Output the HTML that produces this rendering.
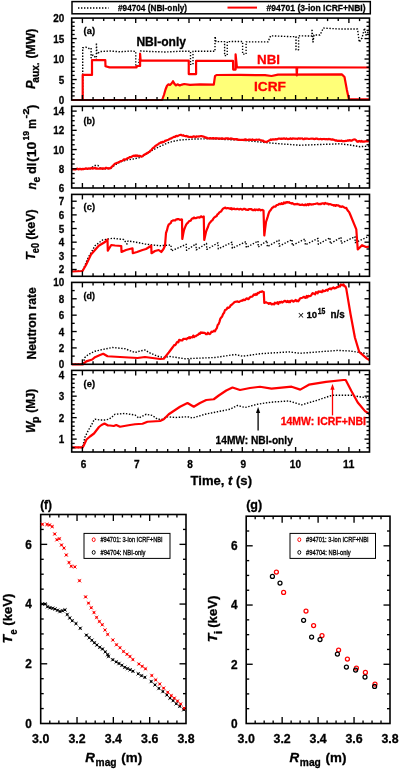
<!DOCTYPE html>
<html><head><meta charset="utf-8"><title>figure</title>
<style>html,body{margin:0;padding:0;background:#fff;width:400px;height:770px;overflow:hidden}</style>
</head><body>
<svg width="400" height="770" viewBox="0 0 400 770" style="display:block;will-change:transform">
<rect width="400" height="770" fill="#fff"/>
<g font-family='"Liberation Sans", sans-serif'>
<rect x="72" y="1.6" width="298.3" height="12.2" fill="none" stroke="#000" stroke-width="1.5"/>
<polyline points="78,8 108.5,8" fill="none" stroke="#000" stroke-width="1.4" stroke-dasharray="1.4 1.6" stroke-linejoin="round"/>
<text x="118" y="10.6" font-size="9" font-weight="bold" stroke="#000" stroke-width="0.3" textLength="69" lengthAdjust="spacingAndGlyphs">#94704 (NBI-only)</text>
<polyline points="227.5,7.6 257,7.6" fill="none" stroke="#ff0000" stroke-width="2" stroke-linejoin="round"/>
<text x="266.6" y="10.6" font-size="9" font-weight="bold" stroke="#000" stroke-width="0.3" textLength="99" lengthAdjust="spacingAndGlyphs">#94701 (3-ion ICRF+NBI)</text>
<polygon points="162.1,100 164,94.75 165.5,89.5 167,85.75 168.5,84.25 170,85 171.5,83.5 173,81.25 174.5,83.9 176,85.4 177.5,84.25 179.75,85.5 182,84.6 184.25,84 190,84.8 200,84.3 213.8,84.6 215,76.2 216.5,75 240,74.9 265,75.2 271.5,76 278,74.6 342,74.4 344.5,77 346.8,89.4 348.9,99.2 348.9,100" fill="#ffff78"/>
<polyline points="71.7,100 82.7,100 82.7,47.8 86,47.2 89,48.5 91.1,48 91.1,57.8 93,55 95,57 96.4,59.5 96.4,42.9 97,54 99.9,51.6 110,51 120,51.8 130,51 135.75,51.5 135.75,67.4 138.4,66 140.5,51 150,51.5 165,52 180,51.3 190.5,51.3 190.5,64.4 193,64.4 193,51.3 215,51.3 215,36.4 216,41.6 224.6,41.6 224.6,55.6 227.25,55.6 227.25,41.6 242.6,41.5 242.6,54.1 246.1,54.1 246.1,41.9 268,41.9 270.6,35.8 290,36.6 296,36.6 296,49.75 298.6,49.75 298.6,35.8 310,36 312,36 312,29 313,42 314,35 320,35 323.4,28.1 340,29 357.5,29 359.25,42.1 362,38 364.5,28.1 366,35 369.5,30" fill="none" stroke="#000" stroke-width="1.4" stroke-dasharray="1.4 1.6" stroke-linejoin="round"/>
<polyline points="71.7,100 82.7,100 82.7,74.9 92,74.9 92,60.2 105.3,60.2 105.5,66.2 109.5,67.4 136.6,67.4 136.8,66 140.1,66 140.1,53.9 140.6,60.7 188.75,60.7 188.75,74.1 196.1,74.1 196.1,60.8 233,60.8 233.2,69.6 235.6,69.6 235.6,54.4 236.9,67.3 296.5,67.4 296.8,75.4 297.2,67.4 369.5,67.5" fill="none" stroke="#ff0000" stroke-width="2.2" stroke-linejoin="round"/>
<polyline points="71.7,100 162.1,100 164,94.75 165.5,89.5 167,85.75 168.5,84.25 170,85 171.5,83.5 173,81.25 174.5,83.9 176,85.4 177.5,84.25 179.75,85.5 182,84.6 184.25,84 190,84.8 200,84.3 213.8,84.6 215,76.2 216.5,75 240,74.9 265,75.2 271.5,76 278,74.6 342,74.4 344.5,77 346.8,89.4 348.9,99.2 369.5,99.4" fill="none" stroke="#ff0000" stroke-width="2.2" stroke-linejoin="round"/>
<polyline points="71.7,169.5 90,169 94.75,165.5 98,165.5 101,169 110.5,168.5 115,165 120,162 127.4,159.9 133,159 139.75,157.6 146.5,153.8 153.25,149.75 160,146.4 167.5,143 172.5,141.5 180,140 195,139 210,138.75 225,139.5 240,140 250,141 265,142.5 280,143.8 300,145.25 320,144.5 340,143.8 350,145 360,146.7 369.5,146" fill="none" stroke="#000" stroke-width="1.4" stroke-dasharray="1.4 1.6" stroke-linejoin="round"/>
<polyline points="71.7,169.3 72.53,169.04 73.36,169.3 74.19,169.12 75.02,169.31 75.85,169.31 76.68,168.79 77.51,168.72 78.34,169.44 79.17,168.9 80,169.1 80.85,168.79 81.71,169.41 82.56,168.87 83.42,169.14 84.27,168.75 85.12,168.83 85.98,168.32 86.83,168.69 87.69,168.83 88.54,168.45 89.4,168.58 90.25,168.3 91.06,168.46 91.88,167.92 92.69,168.56 93.5,168.42 94.31,168.16 95.12,167.93 95.94,168.69 96.75,168.34 97.56,168.57 98.38,168.72 99.19,168.58 100,168.4 100.81,168.76 101.62,168.27 102.42,168.62 103.23,168.29 104.04,168.72 104.85,168.65 105.65,167.93 106.46,167.95 107.27,168.01 108.08,168.67 108.88,168.17 109.69,168.33 110.5,168.2 111.4,167.12 112.3,166.41 113.2,165.4 114.1,164.47 115,163.7 115.93,163.33 116.87,162.88 117.8,162.71 118.73,162.06 119.67,161.84 120.6,161 121.44,160.98 122.28,160.76 123.12,160.13 123.96,159.34 124.8,159.62 125.64,159.38 126.48,158.98 127.32,158.34 128.16,158.13 129,157.6 129.89,157.03 130.79,157.27 131.68,156.72 132.57,156.15 133.46,155.64 134.36,156.03 135.25,155.4 136.09,155.98 136.94,155.3 137.78,156.08 138.62,155.87 139.47,155.77 140.31,156.04 141.16,156.6 142,156.5 142.84,156.27 143.69,154.96 144.53,154.92 145.38,153.84 146.22,153.88 147.06,152.97 147.91,152.91 148.75,152 149.62,151.68 150.49,150.5 151.37,150.2 152.24,148.83 153.11,147.87 153.98,147.59 154.86,146.33 155.73,145.73 156.6,145.25 157.45,144.6 158.3,144.22 159.15,143.25 160,143 160.83,142.25 161.67,142.66 162.5,141.83 163.33,142.08 164.17,141.69 165,140.89 165.83,140.63 166.67,140.35 167.5,140 168.33,139.71 169.17,139.25 170,138.8 170.83,138.44 171.67,138.31 172.5,137.5 173.33,137.23 174.17,136.88 175,136.86 175.83,136.15 176.67,135.93 177.5,136.26 178.33,135.57 179.17,135.32 180,135 180.83,134.73 181.67,135.26 182.5,135.57 183.33,135.23 184.17,135.94 185,136 185.83,136.29 186.67,135.94 187.5,136.61 188.33,136.64 189.17,136.99 190,137 190.83,136.82 191.67,137.09 192.5,137.06 193.33,136.37 194.17,136.35 195,136.86 195.83,137.07 196.67,136.38 197.5,136.51 198.33,136.58 199.17,136.29 200,136.28 200.83,136.18 201.67,136.18 202.5,136.25 203.33,136.67 204.17,136.74 205,137.14 205.83,137.83 206.67,137.49 207.5,138.25 208.33,138.33 209.17,138.49 210,138.13 210.83,138.07 211.67,138.61 212.5,138.11 213.33,138.09 214.17,138.33 215,138.58 215.83,138.06 216.67,138.27 217.5,138.3 218.33,138.77 219.17,138.43 220,138.5 220.83,138.84 221.67,138.24 222.5,138.4 223.33,138.7 224.17,138.93 225,138.56 225.83,138.37 226.67,138.29 227.5,138.68 228.33,138.39 229.17,138.96 230,139 230.83,138.43 231.67,138.53 232.5,138.75 233.33,139.17 234.17,139.16 235,139.44 235.83,139.17 236.67,139.11 237.5,139.4 238.33,139.99 239.17,139.66 240,140 240.83,139.82 241.67,139.84 242.5,139.8 243.33,139.75 244.17,140.17 245,139.44 245.83,139.26 246.67,140.07 247.5,139.97 248.33,140.02 249.17,139.48 250,139.5 250.83,139.95 251.67,139.97 252.5,139.37 253.33,139.89 254.17,140.01 255,139.9 255.83,139.81 256.67,139.64 257.5,139.73 258.33,139.67 259.17,139.57 260,140 260.81,140.34 261.63,140.32 262.44,141.05 263.26,140.62 264.07,141.65 264.89,141.72 265.7,141.8 266.56,141.82 267.42,141.44 268.28,141.08 269.14,140.43 270,140 270.83,139.45 271.67,139.99 272.5,139.35 273.33,139.35 274.17,139.56 275,139.32 275.83,139.11 276.67,139.46 277.5,139.05 278.33,138.69 279.17,138.49 280,138.6 280.8,138.93 281.6,138.6 282.4,138.88 283.2,138.5 284,138.37 284.8,138.68 285.6,138.94 286.4,138.37 287.2,138.93 288,139.06 288.8,138.96 289.6,138.99 290.4,138.26 291.2,138.83 292,139.05 292.8,138.32 293.6,138.53 294.4,138.54 295.2,138.78 296,138.69 296.8,138.74 297.6,139.02 298.4,138.34 299.2,138.39 300,138.8 300.8,138.47 301.6,138.48 302.4,138.44 303.2,139.26 304,139.16 304.8,138.48 305.6,138.86 306.4,138.7 307.2,138.71 308,138.75 308.8,139.02 309.6,138.97 310.4,138.78 311.2,138.63 312,138.77 312.8,138.59 313.6,138.99 314.4,139.14 315.2,138.84 316,138.58 316.8,138.68 317.6,138.86 318.4,139.08 319.2,139.25 320,139 320.83,138.91 321.67,139.3 322.5,139.16 323.33,139.01 324.17,138.97 325,139.1 325.83,139.3 326.67,139.06 327.5,139.32 328.33,139.13 329.17,138.95 330,139.2 330.83,139.38 331.67,139.68 332.5,139.26 333.33,139.73 334.17,139.88 335,140.44 335.83,140.64 336.67,140.29 337.5,140.91 338.33,140.96 339.17,140.64 340,141 340.8,140.93 341.6,140.59 342.4,141.18 343.2,141.01 344,141.18 344.8,141.06 345.6,140.92 346.4,140.94 347.2,140.76 348,140.31 348.8,140.71 349.6,140.15 350.4,140.25 351.2,140.78 352,140.5 353,139.76 354,139.47 355,139.5 356,140.14 357,141.5 357.83,141.81 358.67,141.14 359.5,140.97 360.33,141.67 361.17,140.99 362,141.61 362.83,141.42 363.67,141.54 364.5,141.61 365.33,141.24 366.17,141.4 367,140.68 367.83,141.31 368.67,141.04 369.5,141" fill="none" stroke="#ff0000" stroke-width="2.2" stroke-linejoin="round"/>
<polyline points="71.7,271.3 82.5,271.3 88,258 95,245.75 102.5,240 112.5,238.25 123.75,239.5 127,244 128,241 135,242 145,244 152.5,245 160,245.75 171,245 171.3,251 186.2,244.32 186.5,250.31 196,243.88 196.3,249.86 206.5,243.4 206.8,249.39 218,242.88 218.3,248.87 232,242.24 232.3,248.23 246,241.61 246.3,247.59 258,241.06 258.3,247.05 267,240.65 267.3,246.64 279,240.11 279.3,246.1 292,239.52 292.3,245.51 305,238.93 305.3,244.92 318,238.34 318.3,244.32 330,237.79 330.3,243.78 341,237.29 341.3,243.28 355,236.66 355.3,242.64 369.5,236" fill="none" stroke="#000" stroke-width="1.4" stroke-dasharray="1.4 1.6" stroke-linejoin="round"/>
<polyline points="71.7,271.5 82.5,271 86,265 91,254.5 95,250 98.75,245.75 105,242 107.5,239.5 107.8,250.75 111.25,245 115,245.5 121.25,246 121.5,252 126,250 132.5,248.25 132.8,253.25 137,252 142.5,250 146,249 151.25,245.75 151.5,253.25 155,251 158.75,250 161.25,252 163.5,249 165,245.75 166,233 166.92,230.47 167.83,226.78 168.75,224.5 169.69,223.91 170.62,223.23 171.56,221.07 172.5,220.75 173.4,220.25 174.3,220.34 175.2,220.46 176.1,219.39 177,219.5 177.83,219.05 178.67,219.15 179.5,219.66 180.33,219.85 181.17,219.35 182,219.5 182.3,239 183.15,234.31 184,230 185.12,227.11 186.25,224.5 187.14,223.4 188.04,222.6 188.93,221.24 189.82,220.93 190.71,220.7 191.61,219.02 192.5,218.25 193.3,218.47 194.11,217.52 194.91,218.14 195.71,218.11 196.52,217.87 197.32,217.52 198.12,217.35 198.93,217.45 199.73,217.68 200.54,216.51 201.34,216.31 202.14,217.1 202.95,217.21 203.75,216.5 204.25,240 205.12,236.02 206,232 206.92,229.42 207.83,227.31 208.75,224.5 209.64,222.99 210.54,222.03 211.43,220.86 212.32,220.33 213.21,218.88 214.11,217.7 215,217 215.83,216.43 216.67,215.97 217.5,214.21 218.33,213.95 219.17,212.71 220,212 220.94,211.56 221.88,210.24 222.81,208.86 223.75,208.25 224.56,207.89 225.38,207.66 226.19,208.33 227,208.24 227.81,207.98 228.62,208.28 229.44,208.26 230.25,208.93 231.06,208.09 231.88,209.31 232.69,208.63 233.5,208.84 234.31,208.69 235.12,209.24 235.94,209.26 236.75,208.93 237.56,208.86 238.38,209.23 239.19,209.46 240,209 240.82,208.9 241.63,209.4 242.45,209.76 243.27,209.11 244.09,208.81 244.9,208.86 245.72,209.57 246.54,209.55 247.36,209.99 248.17,209.88 248.99,209.06 249.81,209.03 250.62,209.16 251.44,209.1 252.26,209.86 253.08,210.12 253.89,210.21 254.71,209.35 255.53,210.24 256.35,209.51 257.16,209.7 257.98,210.17 258.8,209.3 259.62,209.35 260.43,210.43 261.25,210 262.38,209.96 263.5,210.5 264.3,235.5 265.15,228.55 266,222 266.87,219.31 267.73,216.65 268.6,213.6 269.45,211.51 270.3,210.57 271.15,209.31 272,208 272.88,207.48 273.75,206.59 274.62,206.62 275.5,206.64 276.38,205.35 277.25,205 278.09,204.81 278.93,203.97 279.76,203.93 280.6,204.23 281.44,203.21 282.27,204.04 283.11,203.82 283.95,202.44 284.79,203.37 285.62,202.32 286.46,202.63 287.3,202 288.16,202.58 289.01,202.16 289.87,202.91 290.72,203.1 291.58,203.54 292.43,203.01 293.29,203.91 294.14,204.42 295,204 295.8,204.34 296.6,204.25 297.4,203.76 298.2,204.39 299,204.29 299.8,204.91 300.6,204.95 301.4,204.89 302.2,204.45 303,205 303.8,205.14 304.6,205.05 305.4,204.35 306.2,205.28 307,204.88 307.8,204.07 308.6,205.14 309.4,203.96 310.2,204.16 311,204.64 311.8,204.4 312.6,204.28 313.4,204.34 314.2,204.01 315,204 315.85,203.7 316.69,203.47 317.54,203.28 318.38,204.15 319.23,204.16 320.08,203.83 320.92,204.07 321.77,203.5 322.62,203.33 323.46,203.45 324.31,204.1 325.15,202.9 326,203.5 326.88,203.69 327.75,203.52 328.62,204.44 329.5,204.05 330.38,204.2 331.25,204.49 332.12,204.87 333,205 333.83,205.54 334.67,205.11 335.5,205.95 336.33,205.08 337.17,205.46 338,205.37 338.83,205.55 339.67,206.64 340.5,206.4 341.32,206.92 342.14,206.36 342.96,206.56 343.79,207.08 344.61,207.74 345.43,208.04 346.25,207.8 347.19,209.7 348.12,211.03 349.06,211.96 350,214 356.3,229.4 357.75,249.5 362,245.2 366,247 369.5,246.6" fill="none" stroke="#ff0000" stroke-width="2.2" stroke-linejoin="round"/>
<polyline points="71.7,364.3 83,364.3 84.75,357.6 87.75,355 90.75,353.1 95,351.25 102.5,349.5 112.5,347.5 125,348.75 135,352.5 140,351 145,350 150,353 157.5,356.25 163.75,357.5 170,356.5 185,358.75 215,357.5 235,354.5 242.5,356.25 260,353.75 288.75,351.9 300,353.3 337.6,350.4 350,351 365,353.3 369.5,354.2" fill="none" stroke="#000" stroke-width="1.4" stroke-dasharray="1.4 1.6" stroke-linejoin="round"/>
<polyline points="71.7,364.3 82.9,364.3 86.25,361.4 92.25,359.5 95,357.2 100,355 103.25,353.75 107.5,356.25 120,357 137.5,358 145,357 160,359 163.75,358.75 168.75,352.5 172.5,347.5 173.33,346.44 174.17,345.16 175,345.06 175.83,344.32 176.67,342.68 177.5,341.95 178.33,342.29 179.17,339.8 180,340 180.83,340.44 181.67,340.42 182.5,340.32 183.33,338.85 184.17,339 185,338.85 185.83,338.74 186.67,339.27 187.5,338 188.33,338.22 189.17,337.17 190,338.21 190.83,337.19 191.67,337.25 192.5,337.33 193.33,335.54 194.17,337.04 195,336.25 195.83,336.19 196.67,335.4 197.5,335.05 198.33,334.5 199.17,333.49 200,333.82 200.83,332.31 201.67,332.92 202.5,332.5 203.39,333 204.29,332.73 205.18,333.18 206.07,334.22 206.96,334.26 207.86,332.77 208.75,333.75 209.64,334.04 210.54,333.31 211.43,331.69 212.32,332.01 213.21,331.38 214.11,330.68 215,331.25 215.89,329.37 216.79,328.27 217.68,324.97 218.57,324.21 219.46,321.86 220.36,318.66 221.25,317.5 222.19,316.41 223.12,313.97 224.06,312.81 225,310 225.83,309.78 226.67,309.14 227.5,307.57 228.33,307.9 229.17,307.48 230,306.63 230.83,305 231.67,305.01 232.5,303.75 233.33,303.44 234.17,302.33 235,301.91 235.83,301.71 236.67,301.7 237.5,301.34 238.33,301.8 239.17,301.97 240,301.25 240.83,301.05 241.67,300.52 242.5,300.74 243.33,299.71 244.17,299.78 245,300.15 245.83,299.09 246.67,298.33 247.5,298.75 248.33,299.21 249.17,298.4 250,297.21 250.83,296.8 251.67,296.73 252.5,296.46 253.33,295.23 254.17,294.32 255,295 255.89,293.93 256.79,294.77 257.68,292.93 258.57,293.2 259.46,292.19 260.36,291.79 261.25,292 262.08,291.28 262.92,291.79 263.75,292 264.3,303 265.2,302.45 266.1,302.31 267,302.67 267.9,302.97 268.8,303.85 269.7,303.08 270.6,303.17 271.5,304.4 272.35,304.12 273.19,303.87 274.04,304.35 274.89,302.75 275.74,303.36 276.58,303.18 277.43,302.21 278.28,304.11 279.12,302.3 279.97,301.86 280.82,302.53 281.66,301.69 282.51,302.53 283.36,301.76 284.21,301.1 285.05,300.78 285.9,301.6 286.72,302.04 287.54,300.98 288.36,302.04 289.19,301.27 290.01,302.23 290.83,300.78 291.65,300.6 292.47,300.57 293.29,301.71 294.11,301.24 294.94,300.55 295.76,299.93 296.58,301.17 297.4,300.7 298.24,301.36 299.09,300.16 299.93,298.5 300.78,298.18 301.62,297.95 302.46,297.75 303.31,297.09 304.15,296.75 305,297.7 305.84,297.87 306.69,295.97 307.53,297.3 308.37,295.83 309.22,296.18 310.06,296.06 310.91,295.74 311.75,294.4 312.59,293.12 313.43,293.45 314.26,293.86 315.1,294.35 315.94,292.2 316.78,292.39 317.62,293.36 318.46,291.48 319.29,291.83 320.13,291.45 320.97,291.95 321.81,292.24 322.65,290.32 323.49,291.3 324.32,291.03 325.16,291 326,290 326.83,289.92 327.66,290.53 328.49,289.1 329.31,289.01 330.14,288.4 330.97,289.41 331.8,288.56 332.63,287.89 333.46,287.47 334.29,288.49 335.11,288.03 335.94,288.06 336.77,287.15 337.6,287.2 338.43,286.76 339.26,285.61 340.09,286.42 340.91,284.49 341.74,285.06 342.57,285.28 343.4,284.3 344.35,286.12 345.3,286.28 346.25,288.6 350.6,314.5 354.9,337.5 359.2,351.9 366.4,358.2 369.5,360" fill="none" stroke="#ff0000" stroke-width="2.2" stroke-linejoin="round"/>
<polyline points="71.7,447.5 82.5,447.5 85,437 88.5,430 91.5,425 94,420 95,419.2 100,420 104.5,420 109,419.2 112,417 115,414.25 125,413.5 135,415 138.75,418 146.25,414.25 152.5,415.5 157.5,419.25 162.5,419.25 166.25,416.75 175,417.5 187.5,416.75 192.5,418 205,414.25 217.5,411.75 230,409.25 237.5,405.5 245,407.5 257.5,404.25 265,403 274.4,401.9 288.75,401 301.7,404.8 317.5,400.2 331.9,395.3 352,395.3 359.2,396.75 369.5,398.2" fill="none" stroke="#000" stroke-width="1.4" stroke-dasharray="1.4 1.6" stroke-linejoin="round"/>
<polyline points="71.7,447.3 82.7,447.3 83.5,446 86.5,439.5 90,436.5 94,433.5 99,427 101.5,425 104.5,423.5 108,425.5 110,425.5 113.75,426 116.25,425 120,426.75 130,425 135,424.25 142.5,423.75 147.5,421.75 160,421 163.75,419.25 168.75,414.25 172.5,411.75 180,406.75 187.5,403 193.75,406.75 200,403 206.25,400 213.75,399.25 218.75,395.5 226.25,390.5 232.5,387.5 240,390 250,388 260,386.75 271.5,388.7 291.6,386.7 300.25,389.6 308.9,384.7 326,381.8 343.4,380 345.7,380 351.4,391 357.75,402.5 365,411.1 369.5,414" fill="none" stroke="#ff0000" stroke-width="2.2" stroke-linejoin="round"/>
<line x1="258.1" y1="430.4" x2="258.1" y2="411.9" stroke="#000" stroke-width="1.3"/>
<polygon points="258.1,406.9 256,412.9 260.2,412.9" fill="#000"/>
<line x1="332.5" y1="415.4" x2="332.5" y2="388.8" stroke="#ff0000" stroke-width="1.3"/>
<polygon points="332.5,383.8 330.4,389.8 334.6,389.8" fill="#ff0000"/>
<line x1="71.7" y1="95.91" x2="74.7" y2="95.91" stroke="#000" stroke-width="1.35"/>
<line x1="369.5" y1="95.91" x2="366.5" y2="95.91" stroke="#000" stroke-width="1.35"/>
<line x1="71.7" y1="91.81" x2="74.7" y2="91.81" stroke="#000" stroke-width="1.35"/>
<line x1="369.5" y1="91.81" x2="366.5" y2="91.81" stroke="#000" stroke-width="1.35"/>
<line x1="71.7" y1="87.72" x2="74.7" y2="87.72" stroke="#000" stroke-width="1.35"/>
<line x1="369.5" y1="87.72" x2="366.5" y2="87.72" stroke="#000" stroke-width="1.35"/>
<line x1="71.7" y1="83.62" x2="74.7" y2="83.62" stroke="#000" stroke-width="1.35"/>
<line x1="369.5" y1="83.62" x2="366.5" y2="83.62" stroke="#000" stroke-width="1.35"/>
<line x1="71.7" y1="79.53" x2="76.7" y2="79.53" stroke="#000" stroke-width="1.35"/>
<line x1="369.5" y1="79.53" x2="364.5" y2="79.53" stroke="#000" stroke-width="1.35"/>
<line x1="71.7" y1="75.43" x2="74.7" y2="75.43" stroke="#000" stroke-width="1.35"/>
<line x1="369.5" y1="75.43" x2="366.5" y2="75.43" stroke="#000" stroke-width="1.35"/>
<line x1="71.7" y1="71.34" x2="74.7" y2="71.34" stroke="#000" stroke-width="1.35"/>
<line x1="369.5" y1="71.34" x2="366.5" y2="71.34" stroke="#000" stroke-width="1.35"/>
<line x1="71.7" y1="67.24" x2="74.7" y2="67.24" stroke="#000" stroke-width="1.35"/>
<line x1="369.5" y1="67.24" x2="366.5" y2="67.24" stroke="#000" stroke-width="1.35"/>
<line x1="71.7" y1="63.14" x2="74.7" y2="63.14" stroke="#000" stroke-width="1.35"/>
<line x1="369.5" y1="63.14" x2="366.5" y2="63.14" stroke="#000" stroke-width="1.35"/>
<line x1="71.7" y1="59.05" x2="76.7" y2="59.05" stroke="#000" stroke-width="1.35"/>
<line x1="369.5" y1="59.05" x2="364.5" y2="59.05" stroke="#000" stroke-width="1.35"/>
<line x1="71.7" y1="54.95" x2="74.7" y2="54.95" stroke="#000" stroke-width="1.35"/>
<line x1="369.5" y1="54.95" x2="366.5" y2="54.95" stroke="#000" stroke-width="1.35"/>
<line x1="71.7" y1="50.86" x2="74.7" y2="50.86" stroke="#000" stroke-width="1.35"/>
<line x1="369.5" y1="50.86" x2="366.5" y2="50.86" stroke="#000" stroke-width="1.35"/>
<line x1="71.7" y1="46.76" x2="74.7" y2="46.76" stroke="#000" stroke-width="1.35"/>
<line x1="369.5" y1="46.76" x2="366.5" y2="46.76" stroke="#000" stroke-width="1.35"/>
<line x1="71.7" y1="42.67" x2="74.7" y2="42.67" stroke="#000" stroke-width="1.35"/>
<line x1="369.5" y1="42.67" x2="366.5" y2="42.67" stroke="#000" stroke-width="1.35"/>
<line x1="71.7" y1="38.57" x2="76.7" y2="38.57" stroke="#000" stroke-width="1.35"/>
<line x1="369.5" y1="38.57" x2="364.5" y2="38.57" stroke="#000" stroke-width="1.35"/>
<line x1="71.7" y1="34.48" x2="74.7" y2="34.48" stroke="#000" stroke-width="1.35"/>
<line x1="369.5" y1="34.48" x2="366.5" y2="34.48" stroke="#000" stroke-width="1.35"/>
<line x1="71.7" y1="30.38" x2="74.7" y2="30.38" stroke="#000" stroke-width="1.35"/>
<line x1="369.5" y1="30.38" x2="366.5" y2="30.38" stroke="#000" stroke-width="1.35"/>
<line x1="71.7" y1="26.29" x2="74.7" y2="26.29" stroke="#000" stroke-width="1.35"/>
<line x1="369.5" y1="26.29" x2="366.5" y2="26.29" stroke="#000" stroke-width="1.35"/>
<line x1="71.7" y1="22.19" x2="74.7" y2="22.19" stroke="#000" stroke-width="1.35"/>
<line x1="369.5" y1="22.19" x2="366.5" y2="22.19" stroke="#000" stroke-width="1.35"/>
<line x1="82.4" y1="100" x2="82.4" y2="95" stroke="#000" stroke-width="1.35"/>
<line x1="82.4" y1="18.1" x2="82.4" y2="23.1" stroke="#000" stroke-width="1.35"/>
<line x1="93.06" y1="100" x2="93.06" y2="97" stroke="#000" stroke-width="1.35"/>
<line x1="93.06" y1="18.1" x2="93.06" y2="21.1" stroke="#000" stroke-width="1.35"/>
<line x1="103.72" y1="100" x2="103.72" y2="97" stroke="#000" stroke-width="1.35"/>
<line x1="103.72" y1="18.1" x2="103.72" y2="21.1" stroke="#000" stroke-width="1.35"/>
<line x1="114.38" y1="100" x2="114.38" y2="97" stroke="#000" stroke-width="1.35"/>
<line x1="114.38" y1="18.1" x2="114.38" y2="21.1" stroke="#000" stroke-width="1.35"/>
<line x1="125.04" y1="100" x2="125.04" y2="97" stroke="#000" stroke-width="1.35"/>
<line x1="125.04" y1="18.1" x2="125.04" y2="21.1" stroke="#000" stroke-width="1.35"/>
<line x1="135.7" y1="100" x2="135.7" y2="95" stroke="#000" stroke-width="1.35"/>
<line x1="135.7" y1="18.1" x2="135.7" y2="23.1" stroke="#000" stroke-width="1.35"/>
<line x1="146.36" y1="100" x2="146.36" y2="97" stroke="#000" stroke-width="1.35"/>
<line x1="146.36" y1="18.1" x2="146.36" y2="21.1" stroke="#000" stroke-width="1.35"/>
<line x1="157.02" y1="100" x2="157.02" y2="97" stroke="#000" stroke-width="1.35"/>
<line x1="157.02" y1="18.1" x2="157.02" y2="21.1" stroke="#000" stroke-width="1.35"/>
<line x1="167.68" y1="100" x2="167.68" y2="97" stroke="#000" stroke-width="1.35"/>
<line x1="167.68" y1="18.1" x2="167.68" y2="21.1" stroke="#000" stroke-width="1.35"/>
<line x1="178.34" y1="100" x2="178.34" y2="97" stroke="#000" stroke-width="1.35"/>
<line x1="178.34" y1="18.1" x2="178.34" y2="21.1" stroke="#000" stroke-width="1.35"/>
<line x1="189" y1="100" x2="189" y2="95" stroke="#000" stroke-width="1.35"/>
<line x1="189" y1="18.1" x2="189" y2="23.1" stroke="#000" stroke-width="1.35"/>
<line x1="199.66" y1="100" x2="199.66" y2="97" stroke="#000" stroke-width="1.35"/>
<line x1="199.66" y1="18.1" x2="199.66" y2="21.1" stroke="#000" stroke-width="1.35"/>
<line x1="210.32" y1="100" x2="210.32" y2="97" stroke="#000" stroke-width="1.35"/>
<line x1="210.32" y1="18.1" x2="210.32" y2="21.1" stroke="#000" stroke-width="1.35"/>
<line x1="220.98" y1="100" x2="220.98" y2="97" stroke="#000" stroke-width="1.35"/>
<line x1="220.98" y1="18.1" x2="220.98" y2="21.1" stroke="#000" stroke-width="1.35"/>
<line x1="231.64" y1="100" x2="231.64" y2="97" stroke="#000" stroke-width="1.35"/>
<line x1="231.64" y1="18.1" x2="231.64" y2="21.1" stroke="#000" stroke-width="1.35"/>
<line x1="242.3" y1="100" x2="242.3" y2="95" stroke="#000" stroke-width="1.35"/>
<line x1="242.3" y1="18.1" x2="242.3" y2="23.1" stroke="#000" stroke-width="1.35"/>
<line x1="252.96" y1="100" x2="252.96" y2="97" stroke="#000" stroke-width="1.35"/>
<line x1="252.96" y1="18.1" x2="252.96" y2="21.1" stroke="#000" stroke-width="1.35"/>
<line x1="263.62" y1="100" x2="263.62" y2="97" stroke="#000" stroke-width="1.35"/>
<line x1="263.62" y1="18.1" x2="263.62" y2="21.1" stroke="#000" stroke-width="1.35"/>
<line x1="274.28" y1="100" x2="274.28" y2="97" stroke="#000" stroke-width="1.35"/>
<line x1="274.28" y1="18.1" x2="274.28" y2="21.1" stroke="#000" stroke-width="1.35"/>
<line x1="284.94" y1="100" x2="284.94" y2="97" stroke="#000" stroke-width="1.35"/>
<line x1="284.94" y1="18.1" x2="284.94" y2="21.1" stroke="#000" stroke-width="1.35"/>
<line x1="295.6" y1="100" x2="295.6" y2="95" stroke="#000" stroke-width="1.35"/>
<line x1="295.6" y1="18.1" x2="295.6" y2="23.1" stroke="#000" stroke-width="1.35"/>
<line x1="306.26" y1="100" x2="306.26" y2="97" stroke="#000" stroke-width="1.35"/>
<line x1="306.26" y1="18.1" x2="306.26" y2="21.1" stroke="#000" stroke-width="1.35"/>
<line x1="316.92" y1="100" x2="316.92" y2="97" stroke="#000" stroke-width="1.35"/>
<line x1="316.92" y1="18.1" x2="316.92" y2="21.1" stroke="#000" stroke-width="1.35"/>
<line x1="327.58" y1="100" x2="327.58" y2="97" stroke="#000" stroke-width="1.35"/>
<line x1="327.58" y1="18.1" x2="327.58" y2="21.1" stroke="#000" stroke-width="1.35"/>
<line x1="338.24" y1="100" x2="338.24" y2="97" stroke="#000" stroke-width="1.35"/>
<line x1="338.24" y1="18.1" x2="338.24" y2="21.1" stroke="#000" stroke-width="1.35"/>
<line x1="348.9" y1="100" x2="348.9" y2="95" stroke="#000" stroke-width="1.35"/>
<line x1="348.9" y1="18.1" x2="348.9" y2="23.1" stroke="#000" stroke-width="1.35"/>
<line x1="359.56" y1="100" x2="359.56" y2="97" stroke="#000" stroke-width="1.35"/>
<line x1="359.56" y1="18.1" x2="359.56" y2="21.1" stroke="#000" stroke-width="1.35"/>
<rect x="71.7" y="18.1" width="297.8" height="81.9" fill="none" stroke="#000" stroke-width="1.6"/>
<text x="64.2" y="104" font-size="11.2" font-weight="bold" text-anchor="end" stroke="#000" stroke-width="0.3" textLength="5.5" lengthAdjust="spacingAndGlyphs">0</text>
<text x="64.2" y="83.53" font-size="11.2" font-weight="bold" text-anchor="end" stroke="#000" stroke-width="0.3" textLength="5.5" lengthAdjust="spacingAndGlyphs">5</text>
<text x="64.2" y="63.05" font-size="11.2" font-weight="bold" text-anchor="end" stroke="#000" stroke-width="0.3" textLength="11" lengthAdjust="spacingAndGlyphs">10</text>
<text x="64.2" y="42.57" font-size="11.2" font-weight="bold" text-anchor="end" stroke="#000" stroke-width="0.3" textLength="11" lengthAdjust="spacingAndGlyphs">15</text>
<text x="64.2" y="22.1" font-size="11.2" font-weight="bold" text-anchor="end" stroke="#000" stroke-width="0.3" textLength="11" lengthAdjust="spacingAndGlyphs">20</text>
<line x1="71.7" y1="183.19" x2="74.7" y2="183.19" stroke="#000" stroke-width="1.35"/>
<line x1="369.5" y1="183.19" x2="366.5" y2="183.19" stroke="#000" stroke-width="1.35"/>
<line x1="71.7" y1="178.39" x2="74.7" y2="178.39" stroke="#000" stroke-width="1.35"/>
<line x1="369.5" y1="178.39" x2="366.5" y2="178.39" stroke="#000" stroke-width="1.35"/>
<line x1="71.7" y1="173.58" x2="74.7" y2="173.58" stroke="#000" stroke-width="1.35"/>
<line x1="369.5" y1="173.58" x2="366.5" y2="173.58" stroke="#000" stroke-width="1.35"/>
<line x1="71.7" y1="168.78" x2="76.7" y2="168.78" stroke="#000" stroke-width="1.35"/>
<line x1="369.5" y1="168.78" x2="364.5" y2="168.78" stroke="#000" stroke-width="1.35"/>
<line x1="71.7" y1="163.97" x2="74.7" y2="163.97" stroke="#000" stroke-width="1.35"/>
<line x1="369.5" y1="163.97" x2="366.5" y2="163.97" stroke="#000" stroke-width="1.35"/>
<line x1="71.7" y1="159.16" x2="74.7" y2="159.16" stroke="#000" stroke-width="1.35"/>
<line x1="369.5" y1="159.16" x2="366.5" y2="159.16" stroke="#000" stroke-width="1.35"/>
<line x1="71.7" y1="154.36" x2="74.7" y2="154.36" stroke="#000" stroke-width="1.35"/>
<line x1="369.5" y1="154.36" x2="366.5" y2="154.36" stroke="#000" stroke-width="1.35"/>
<line x1="71.7" y1="149.55" x2="76.7" y2="149.55" stroke="#000" stroke-width="1.35"/>
<line x1="369.5" y1="149.55" x2="364.5" y2="149.55" stroke="#000" stroke-width="1.35"/>
<line x1="71.7" y1="144.75" x2="74.7" y2="144.75" stroke="#000" stroke-width="1.35"/>
<line x1="369.5" y1="144.75" x2="366.5" y2="144.75" stroke="#000" stroke-width="1.35"/>
<line x1="71.7" y1="139.94" x2="74.7" y2="139.94" stroke="#000" stroke-width="1.35"/>
<line x1="369.5" y1="139.94" x2="366.5" y2="139.94" stroke="#000" stroke-width="1.35"/>
<line x1="71.7" y1="135.14" x2="74.7" y2="135.14" stroke="#000" stroke-width="1.35"/>
<line x1="369.5" y1="135.14" x2="366.5" y2="135.14" stroke="#000" stroke-width="1.35"/>
<line x1="71.7" y1="130.33" x2="76.7" y2="130.33" stroke="#000" stroke-width="1.35"/>
<line x1="369.5" y1="130.33" x2="364.5" y2="130.33" stroke="#000" stroke-width="1.35"/>
<line x1="71.7" y1="125.52" x2="74.7" y2="125.52" stroke="#000" stroke-width="1.35"/>
<line x1="369.5" y1="125.52" x2="366.5" y2="125.52" stroke="#000" stroke-width="1.35"/>
<line x1="71.7" y1="120.72" x2="74.7" y2="120.72" stroke="#000" stroke-width="1.35"/>
<line x1="369.5" y1="120.72" x2="366.5" y2="120.72" stroke="#000" stroke-width="1.35"/>
<line x1="71.7" y1="115.91" x2="74.7" y2="115.91" stroke="#000" stroke-width="1.35"/>
<line x1="369.5" y1="115.91" x2="366.5" y2="115.91" stroke="#000" stroke-width="1.35"/>
<line x1="71.7" y1="111.11" x2="76.7" y2="111.11" stroke="#000" stroke-width="1.35"/>
<line x1="369.5" y1="111.11" x2="364.5" y2="111.11" stroke="#000" stroke-width="1.35"/>
<line x1="82.4" y1="188" x2="82.4" y2="183" stroke="#000" stroke-width="1.35"/>
<line x1="82.4" y1="106.3" x2="82.4" y2="111.3" stroke="#000" stroke-width="1.35"/>
<line x1="93.06" y1="188" x2="93.06" y2="185" stroke="#000" stroke-width="1.35"/>
<line x1="93.06" y1="106.3" x2="93.06" y2="109.3" stroke="#000" stroke-width="1.35"/>
<line x1="103.72" y1="188" x2="103.72" y2="185" stroke="#000" stroke-width="1.35"/>
<line x1="103.72" y1="106.3" x2="103.72" y2="109.3" stroke="#000" stroke-width="1.35"/>
<line x1="114.38" y1="188" x2="114.38" y2="185" stroke="#000" stroke-width="1.35"/>
<line x1="114.38" y1="106.3" x2="114.38" y2="109.3" stroke="#000" stroke-width="1.35"/>
<line x1="125.04" y1="188" x2="125.04" y2="185" stroke="#000" stroke-width="1.35"/>
<line x1="125.04" y1="106.3" x2="125.04" y2="109.3" stroke="#000" stroke-width="1.35"/>
<line x1="135.7" y1="188" x2="135.7" y2="183" stroke="#000" stroke-width="1.35"/>
<line x1="135.7" y1="106.3" x2="135.7" y2="111.3" stroke="#000" stroke-width="1.35"/>
<line x1="146.36" y1="188" x2="146.36" y2="185" stroke="#000" stroke-width="1.35"/>
<line x1="146.36" y1="106.3" x2="146.36" y2="109.3" stroke="#000" stroke-width="1.35"/>
<line x1="157.02" y1="188" x2="157.02" y2="185" stroke="#000" stroke-width="1.35"/>
<line x1="157.02" y1="106.3" x2="157.02" y2="109.3" stroke="#000" stroke-width="1.35"/>
<line x1="167.68" y1="188" x2="167.68" y2="185" stroke="#000" stroke-width="1.35"/>
<line x1="167.68" y1="106.3" x2="167.68" y2="109.3" stroke="#000" stroke-width="1.35"/>
<line x1="178.34" y1="188" x2="178.34" y2="185" stroke="#000" stroke-width="1.35"/>
<line x1="178.34" y1="106.3" x2="178.34" y2="109.3" stroke="#000" stroke-width="1.35"/>
<line x1="189" y1="188" x2="189" y2="183" stroke="#000" stroke-width="1.35"/>
<line x1="189" y1="106.3" x2="189" y2="111.3" stroke="#000" stroke-width="1.35"/>
<line x1="199.66" y1="188" x2="199.66" y2="185" stroke="#000" stroke-width="1.35"/>
<line x1="199.66" y1="106.3" x2="199.66" y2="109.3" stroke="#000" stroke-width="1.35"/>
<line x1="210.32" y1="188" x2="210.32" y2="185" stroke="#000" stroke-width="1.35"/>
<line x1="210.32" y1="106.3" x2="210.32" y2="109.3" stroke="#000" stroke-width="1.35"/>
<line x1="220.98" y1="188" x2="220.98" y2="185" stroke="#000" stroke-width="1.35"/>
<line x1="220.98" y1="106.3" x2="220.98" y2="109.3" stroke="#000" stroke-width="1.35"/>
<line x1="231.64" y1="188" x2="231.64" y2="185" stroke="#000" stroke-width="1.35"/>
<line x1="231.64" y1="106.3" x2="231.64" y2="109.3" stroke="#000" stroke-width="1.35"/>
<line x1="242.3" y1="188" x2="242.3" y2="183" stroke="#000" stroke-width="1.35"/>
<line x1="242.3" y1="106.3" x2="242.3" y2="111.3" stroke="#000" stroke-width="1.35"/>
<line x1="252.96" y1="188" x2="252.96" y2="185" stroke="#000" stroke-width="1.35"/>
<line x1="252.96" y1="106.3" x2="252.96" y2="109.3" stroke="#000" stroke-width="1.35"/>
<line x1="263.62" y1="188" x2="263.62" y2="185" stroke="#000" stroke-width="1.35"/>
<line x1="263.62" y1="106.3" x2="263.62" y2="109.3" stroke="#000" stroke-width="1.35"/>
<line x1="274.28" y1="188" x2="274.28" y2="185" stroke="#000" stroke-width="1.35"/>
<line x1="274.28" y1="106.3" x2="274.28" y2="109.3" stroke="#000" stroke-width="1.35"/>
<line x1="284.94" y1="188" x2="284.94" y2="185" stroke="#000" stroke-width="1.35"/>
<line x1="284.94" y1="106.3" x2="284.94" y2="109.3" stroke="#000" stroke-width="1.35"/>
<line x1="295.6" y1="188" x2="295.6" y2="183" stroke="#000" stroke-width="1.35"/>
<line x1="295.6" y1="106.3" x2="295.6" y2="111.3" stroke="#000" stroke-width="1.35"/>
<line x1="306.26" y1="188" x2="306.26" y2="185" stroke="#000" stroke-width="1.35"/>
<line x1="306.26" y1="106.3" x2="306.26" y2="109.3" stroke="#000" stroke-width="1.35"/>
<line x1="316.92" y1="188" x2="316.92" y2="185" stroke="#000" stroke-width="1.35"/>
<line x1="316.92" y1="106.3" x2="316.92" y2="109.3" stroke="#000" stroke-width="1.35"/>
<line x1="327.58" y1="188" x2="327.58" y2="185" stroke="#000" stroke-width="1.35"/>
<line x1="327.58" y1="106.3" x2="327.58" y2="109.3" stroke="#000" stroke-width="1.35"/>
<line x1="338.24" y1="188" x2="338.24" y2="185" stroke="#000" stroke-width="1.35"/>
<line x1="338.24" y1="106.3" x2="338.24" y2="109.3" stroke="#000" stroke-width="1.35"/>
<line x1="348.9" y1="188" x2="348.9" y2="183" stroke="#000" stroke-width="1.35"/>
<line x1="348.9" y1="106.3" x2="348.9" y2="111.3" stroke="#000" stroke-width="1.35"/>
<line x1="359.56" y1="188" x2="359.56" y2="185" stroke="#000" stroke-width="1.35"/>
<line x1="359.56" y1="106.3" x2="359.56" y2="109.3" stroke="#000" stroke-width="1.35"/>
<rect x="71.7" y="106.3" width="297.8" height="81.7" fill="none" stroke="#000" stroke-width="1.6"/>
<text x="64.2" y="192" font-size="11.2" font-weight="bold" text-anchor="end" stroke="#000" stroke-width="0.3" textLength="5.5" lengthAdjust="spacingAndGlyphs">6</text>
<text x="64.2" y="172.78" font-size="11.2" font-weight="bold" text-anchor="end" stroke="#000" stroke-width="0.3" textLength="5.5" lengthAdjust="spacingAndGlyphs">8</text>
<text x="64.2" y="153.55" font-size="11.2" font-weight="bold" text-anchor="end" stroke="#000" stroke-width="0.3" textLength="11" lengthAdjust="spacingAndGlyphs">10</text>
<text x="64.2" y="134.33" font-size="11.2" font-weight="bold" text-anchor="end" stroke="#000" stroke-width="0.3" textLength="11" lengthAdjust="spacingAndGlyphs">12</text>
<text x="64.2" y="115.11" font-size="11.2" font-weight="bold" text-anchor="end" stroke="#000" stroke-width="0.3" textLength="11" lengthAdjust="spacingAndGlyphs">14</text>
<line x1="71.7" y1="269.48" x2="76.7" y2="269.48" stroke="#000" stroke-width="1.35"/>
<line x1="369.5" y1="269.48" x2="364.5" y2="269.48" stroke="#000" stroke-width="1.35"/>
<line x1="71.7" y1="262.65" x2="74.7" y2="262.65" stroke="#000" stroke-width="1.35"/>
<line x1="369.5" y1="262.65" x2="366.5" y2="262.65" stroke="#000" stroke-width="1.35"/>
<line x1="71.7" y1="255.83" x2="76.7" y2="255.83" stroke="#000" stroke-width="1.35"/>
<line x1="369.5" y1="255.83" x2="364.5" y2="255.83" stroke="#000" stroke-width="1.35"/>
<line x1="71.7" y1="249" x2="74.7" y2="249" stroke="#000" stroke-width="1.35"/>
<line x1="369.5" y1="249" x2="366.5" y2="249" stroke="#000" stroke-width="1.35"/>
<line x1="71.7" y1="242.18" x2="76.7" y2="242.18" stroke="#000" stroke-width="1.35"/>
<line x1="369.5" y1="242.18" x2="364.5" y2="242.18" stroke="#000" stroke-width="1.35"/>
<line x1="71.7" y1="235.35" x2="74.7" y2="235.35" stroke="#000" stroke-width="1.35"/>
<line x1="369.5" y1="235.35" x2="366.5" y2="235.35" stroke="#000" stroke-width="1.35"/>
<line x1="71.7" y1="228.53" x2="76.7" y2="228.53" stroke="#000" stroke-width="1.35"/>
<line x1="369.5" y1="228.53" x2="364.5" y2="228.53" stroke="#000" stroke-width="1.35"/>
<line x1="71.7" y1="221.7" x2="74.7" y2="221.7" stroke="#000" stroke-width="1.35"/>
<line x1="369.5" y1="221.7" x2="366.5" y2="221.7" stroke="#000" stroke-width="1.35"/>
<line x1="71.7" y1="214.88" x2="76.7" y2="214.88" stroke="#000" stroke-width="1.35"/>
<line x1="369.5" y1="214.88" x2="364.5" y2="214.88" stroke="#000" stroke-width="1.35"/>
<line x1="71.7" y1="208.05" x2="74.7" y2="208.05" stroke="#000" stroke-width="1.35"/>
<line x1="369.5" y1="208.05" x2="366.5" y2="208.05" stroke="#000" stroke-width="1.35"/>
<line x1="71.7" y1="201.23" x2="76.7" y2="201.23" stroke="#000" stroke-width="1.35"/>
<line x1="369.5" y1="201.23" x2="364.5" y2="201.23" stroke="#000" stroke-width="1.35"/>
<line x1="82.4" y1="276.3" x2="82.4" y2="271.3" stroke="#000" stroke-width="1.35"/>
<line x1="82.4" y1="194.4" x2="82.4" y2="199.4" stroke="#000" stroke-width="1.35"/>
<line x1="93.06" y1="276.3" x2="93.06" y2="273.3" stroke="#000" stroke-width="1.35"/>
<line x1="93.06" y1="194.4" x2="93.06" y2="197.4" stroke="#000" stroke-width="1.35"/>
<line x1="103.72" y1="276.3" x2="103.72" y2="273.3" stroke="#000" stroke-width="1.35"/>
<line x1="103.72" y1="194.4" x2="103.72" y2="197.4" stroke="#000" stroke-width="1.35"/>
<line x1="114.38" y1="276.3" x2="114.38" y2="273.3" stroke="#000" stroke-width="1.35"/>
<line x1="114.38" y1="194.4" x2="114.38" y2="197.4" stroke="#000" stroke-width="1.35"/>
<line x1="125.04" y1="276.3" x2="125.04" y2="273.3" stroke="#000" stroke-width="1.35"/>
<line x1="125.04" y1="194.4" x2="125.04" y2="197.4" stroke="#000" stroke-width="1.35"/>
<line x1="135.7" y1="276.3" x2="135.7" y2="271.3" stroke="#000" stroke-width="1.35"/>
<line x1="135.7" y1="194.4" x2="135.7" y2="199.4" stroke="#000" stroke-width="1.35"/>
<line x1="146.36" y1="276.3" x2="146.36" y2="273.3" stroke="#000" stroke-width="1.35"/>
<line x1="146.36" y1="194.4" x2="146.36" y2="197.4" stroke="#000" stroke-width="1.35"/>
<line x1="157.02" y1="276.3" x2="157.02" y2="273.3" stroke="#000" stroke-width="1.35"/>
<line x1="157.02" y1="194.4" x2="157.02" y2="197.4" stroke="#000" stroke-width="1.35"/>
<line x1="167.68" y1="276.3" x2="167.68" y2="273.3" stroke="#000" stroke-width="1.35"/>
<line x1="167.68" y1="194.4" x2="167.68" y2="197.4" stroke="#000" stroke-width="1.35"/>
<line x1="178.34" y1="276.3" x2="178.34" y2="273.3" stroke="#000" stroke-width="1.35"/>
<line x1="178.34" y1="194.4" x2="178.34" y2="197.4" stroke="#000" stroke-width="1.35"/>
<line x1="189" y1="276.3" x2="189" y2="271.3" stroke="#000" stroke-width="1.35"/>
<line x1="189" y1="194.4" x2="189" y2="199.4" stroke="#000" stroke-width="1.35"/>
<line x1="199.66" y1="276.3" x2="199.66" y2="273.3" stroke="#000" stroke-width="1.35"/>
<line x1="199.66" y1="194.4" x2="199.66" y2="197.4" stroke="#000" stroke-width="1.35"/>
<line x1="210.32" y1="276.3" x2="210.32" y2="273.3" stroke="#000" stroke-width="1.35"/>
<line x1="210.32" y1="194.4" x2="210.32" y2="197.4" stroke="#000" stroke-width="1.35"/>
<line x1="220.98" y1="276.3" x2="220.98" y2="273.3" stroke="#000" stroke-width="1.35"/>
<line x1="220.98" y1="194.4" x2="220.98" y2="197.4" stroke="#000" stroke-width="1.35"/>
<line x1="231.64" y1="276.3" x2="231.64" y2="273.3" stroke="#000" stroke-width="1.35"/>
<line x1="231.64" y1="194.4" x2="231.64" y2="197.4" stroke="#000" stroke-width="1.35"/>
<line x1="242.3" y1="276.3" x2="242.3" y2="271.3" stroke="#000" stroke-width="1.35"/>
<line x1="242.3" y1="194.4" x2="242.3" y2="199.4" stroke="#000" stroke-width="1.35"/>
<line x1="252.96" y1="276.3" x2="252.96" y2="273.3" stroke="#000" stroke-width="1.35"/>
<line x1="252.96" y1="194.4" x2="252.96" y2="197.4" stroke="#000" stroke-width="1.35"/>
<line x1="263.62" y1="276.3" x2="263.62" y2="273.3" stroke="#000" stroke-width="1.35"/>
<line x1="263.62" y1="194.4" x2="263.62" y2="197.4" stroke="#000" stroke-width="1.35"/>
<line x1="274.28" y1="276.3" x2="274.28" y2="273.3" stroke="#000" stroke-width="1.35"/>
<line x1="274.28" y1="194.4" x2="274.28" y2="197.4" stroke="#000" stroke-width="1.35"/>
<line x1="284.94" y1="276.3" x2="284.94" y2="273.3" stroke="#000" stroke-width="1.35"/>
<line x1="284.94" y1="194.4" x2="284.94" y2="197.4" stroke="#000" stroke-width="1.35"/>
<line x1="295.6" y1="276.3" x2="295.6" y2="271.3" stroke="#000" stroke-width="1.35"/>
<line x1="295.6" y1="194.4" x2="295.6" y2="199.4" stroke="#000" stroke-width="1.35"/>
<line x1="306.26" y1="276.3" x2="306.26" y2="273.3" stroke="#000" stroke-width="1.35"/>
<line x1="306.26" y1="194.4" x2="306.26" y2="197.4" stroke="#000" stroke-width="1.35"/>
<line x1="316.92" y1="276.3" x2="316.92" y2="273.3" stroke="#000" stroke-width="1.35"/>
<line x1="316.92" y1="194.4" x2="316.92" y2="197.4" stroke="#000" stroke-width="1.35"/>
<line x1="327.58" y1="276.3" x2="327.58" y2="273.3" stroke="#000" stroke-width="1.35"/>
<line x1="327.58" y1="194.4" x2="327.58" y2="197.4" stroke="#000" stroke-width="1.35"/>
<line x1="338.24" y1="276.3" x2="338.24" y2="273.3" stroke="#000" stroke-width="1.35"/>
<line x1="338.24" y1="194.4" x2="338.24" y2="197.4" stroke="#000" stroke-width="1.35"/>
<line x1="348.9" y1="276.3" x2="348.9" y2="271.3" stroke="#000" stroke-width="1.35"/>
<line x1="348.9" y1="194.4" x2="348.9" y2="199.4" stroke="#000" stroke-width="1.35"/>
<line x1="359.56" y1="276.3" x2="359.56" y2="273.3" stroke="#000" stroke-width="1.35"/>
<line x1="359.56" y1="194.4" x2="359.56" y2="197.4" stroke="#000" stroke-width="1.35"/>
<rect x="71.7" y="194.4" width="297.8" height="81.9" fill="none" stroke="#000" stroke-width="1.6"/>
<text x="64.2" y="273.48" font-size="11.2" font-weight="bold" text-anchor="end" stroke="#000" stroke-width="0.3" textLength="5.5" lengthAdjust="spacingAndGlyphs">2</text>
<text x="64.2" y="259.83" font-size="11.2" font-weight="bold" text-anchor="end" stroke="#000" stroke-width="0.3" textLength="5.5" lengthAdjust="spacingAndGlyphs">3</text>
<text x="64.2" y="246.18" font-size="11.2" font-weight="bold" text-anchor="end" stroke="#000" stroke-width="0.3" textLength="5.5" lengthAdjust="spacingAndGlyphs">4</text>
<text x="64.2" y="232.53" font-size="11.2" font-weight="bold" text-anchor="end" stroke="#000" stroke-width="0.3" textLength="5.5" lengthAdjust="spacingAndGlyphs">5</text>
<text x="64.2" y="218.88" font-size="11.2" font-weight="bold" text-anchor="end" stroke="#000" stroke-width="0.3" textLength="5.5" lengthAdjust="spacingAndGlyphs">6</text>
<text x="64.2" y="205.23" font-size="11.2" font-weight="bold" text-anchor="end" stroke="#000" stroke-width="0.3" textLength="5.5" lengthAdjust="spacingAndGlyphs">7</text>
<line x1="71.7" y1="356.11" x2="74.7" y2="356.11" stroke="#000" stroke-width="1.35"/>
<line x1="369.5" y1="356.11" x2="366.5" y2="356.11" stroke="#000" stroke-width="1.35"/>
<line x1="71.7" y1="347.92" x2="76.7" y2="347.92" stroke="#000" stroke-width="1.35"/>
<line x1="369.5" y1="347.92" x2="364.5" y2="347.92" stroke="#000" stroke-width="1.35"/>
<line x1="71.7" y1="339.73" x2="74.7" y2="339.73" stroke="#000" stroke-width="1.35"/>
<line x1="369.5" y1="339.73" x2="366.5" y2="339.73" stroke="#000" stroke-width="1.35"/>
<line x1="71.7" y1="331.54" x2="76.7" y2="331.54" stroke="#000" stroke-width="1.35"/>
<line x1="369.5" y1="331.54" x2="364.5" y2="331.54" stroke="#000" stroke-width="1.35"/>
<line x1="71.7" y1="323.35" x2="74.7" y2="323.35" stroke="#000" stroke-width="1.35"/>
<line x1="369.5" y1="323.35" x2="366.5" y2="323.35" stroke="#000" stroke-width="1.35"/>
<line x1="71.7" y1="315.16" x2="76.7" y2="315.16" stroke="#000" stroke-width="1.35"/>
<line x1="369.5" y1="315.16" x2="364.5" y2="315.16" stroke="#000" stroke-width="1.35"/>
<line x1="71.7" y1="306.97" x2="74.7" y2="306.97" stroke="#000" stroke-width="1.35"/>
<line x1="369.5" y1="306.97" x2="366.5" y2="306.97" stroke="#000" stroke-width="1.35"/>
<line x1="71.7" y1="298.78" x2="76.7" y2="298.78" stroke="#000" stroke-width="1.35"/>
<line x1="369.5" y1="298.78" x2="364.5" y2="298.78" stroke="#000" stroke-width="1.35"/>
<line x1="71.7" y1="290.59" x2="74.7" y2="290.59" stroke="#000" stroke-width="1.35"/>
<line x1="369.5" y1="290.59" x2="366.5" y2="290.59" stroke="#000" stroke-width="1.35"/>
<line x1="82.4" y1="364.3" x2="82.4" y2="359.3" stroke="#000" stroke-width="1.35"/>
<line x1="82.4" y1="282.4" x2="82.4" y2="287.4" stroke="#000" stroke-width="1.35"/>
<line x1="93.06" y1="364.3" x2="93.06" y2="361.3" stroke="#000" stroke-width="1.35"/>
<line x1="93.06" y1="282.4" x2="93.06" y2="285.4" stroke="#000" stroke-width="1.35"/>
<line x1="103.72" y1="364.3" x2="103.72" y2="361.3" stroke="#000" stroke-width="1.35"/>
<line x1="103.72" y1="282.4" x2="103.72" y2="285.4" stroke="#000" stroke-width="1.35"/>
<line x1="114.38" y1="364.3" x2="114.38" y2="361.3" stroke="#000" stroke-width="1.35"/>
<line x1="114.38" y1="282.4" x2="114.38" y2="285.4" stroke="#000" stroke-width="1.35"/>
<line x1="125.04" y1="364.3" x2="125.04" y2="361.3" stroke="#000" stroke-width="1.35"/>
<line x1="125.04" y1="282.4" x2="125.04" y2="285.4" stroke="#000" stroke-width="1.35"/>
<line x1="135.7" y1="364.3" x2="135.7" y2="359.3" stroke="#000" stroke-width="1.35"/>
<line x1="135.7" y1="282.4" x2="135.7" y2="287.4" stroke="#000" stroke-width="1.35"/>
<line x1="146.36" y1="364.3" x2="146.36" y2="361.3" stroke="#000" stroke-width="1.35"/>
<line x1="146.36" y1="282.4" x2="146.36" y2="285.4" stroke="#000" stroke-width="1.35"/>
<line x1="157.02" y1="364.3" x2="157.02" y2="361.3" stroke="#000" stroke-width="1.35"/>
<line x1="157.02" y1="282.4" x2="157.02" y2="285.4" stroke="#000" stroke-width="1.35"/>
<line x1="167.68" y1="364.3" x2="167.68" y2="361.3" stroke="#000" stroke-width="1.35"/>
<line x1="167.68" y1="282.4" x2="167.68" y2="285.4" stroke="#000" stroke-width="1.35"/>
<line x1="178.34" y1="364.3" x2="178.34" y2="361.3" stroke="#000" stroke-width="1.35"/>
<line x1="178.34" y1="282.4" x2="178.34" y2="285.4" stroke="#000" stroke-width="1.35"/>
<line x1="189" y1="364.3" x2="189" y2="359.3" stroke="#000" stroke-width="1.35"/>
<line x1="189" y1="282.4" x2="189" y2="287.4" stroke="#000" stroke-width="1.35"/>
<line x1="199.66" y1="364.3" x2="199.66" y2="361.3" stroke="#000" stroke-width="1.35"/>
<line x1="199.66" y1="282.4" x2="199.66" y2="285.4" stroke="#000" stroke-width="1.35"/>
<line x1="210.32" y1="364.3" x2="210.32" y2="361.3" stroke="#000" stroke-width="1.35"/>
<line x1="210.32" y1="282.4" x2="210.32" y2="285.4" stroke="#000" stroke-width="1.35"/>
<line x1="220.98" y1="364.3" x2="220.98" y2="361.3" stroke="#000" stroke-width="1.35"/>
<line x1="220.98" y1="282.4" x2="220.98" y2="285.4" stroke="#000" stroke-width="1.35"/>
<line x1="231.64" y1="364.3" x2="231.64" y2="361.3" stroke="#000" stroke-width="1.35"/>
<line x1="231.64" y1="282.4" x2="231.64" y2="285.4" stroke="#000" stroke-width="1.35"/>
<line x1="242.3" y1="364.3" x2="242.3" y2="359.3" stroke="#000" stroke-width="1.35"/>
<line x1="242.3" y1="282.4" x2="242.3" y2="287.4" stroke="#000" stroke-width="1.35"/>
<line x1="252.96" y1="364.3" x2="252.96" y2="361.3" stroke="#000" stroke-width="1.35"/>
<line x1="252.96" y1="282.4" x2="252.96" y2="285.4" stroke="#000" stroke-width="1.35"/>
<line x1="263.62" y1="364.3" x2="263.62" y2="361.3" stroke="#000" stroke-width="1.35"/>
<line x1="263.62" y1="282.4" x2="263.62" y2="285.4" stroke="#000" stroke-width="1.35"/>
<line x1="274.28" y1="364.3" x2="274.28" y2="361.3" stroke="#000" stroke-width="1.35"/>
<line x1="274.28" y1="282.4" x2="274.28" y2="285.4" stroke="#000" stroke-width="1.35"/>
<line x1="284.94" y1="364.3" x2="284.94" y2="361.3" stroke="#000" stroke-width="1.35"/>
<line x1="284.94" y1="282.4" x2="284.94" y2="285.4" stroke="#000" stroke-width="1.35"/>
<line x1="295.6" y1="364.3" x2="295.6" y2="359.3" stroke="#000" stroke-width="1.35"/>
<line x1="295.6" y1="282.4" x2="295.6" y2="287.4" stroke="#000" stroke-width="1.35"/>
<line x1="306.26" y1="364.3" x2="306.26" y2="361.3" stroke="#000" stroke-width="1.35"/>
<line x1="306.26" y1="282.4" x2="306.26" y2="285.4" stroke="#000" stroke-width="1.35"/>
<line x1="316.92" y1="364.3" x2="316.92" y2="361.3" stroke="#000" stroke-width="1.35"/>
<line x1="316.92" y1="282.4" x2="316.92" y2="285.4" stroke="#000" stroke-width="1.35"/>
<line x1="327.58" y1="364.3" x2="327.58" y2="361.3" stroke="#000" stroke-width="1.35"/>
<line x1="327.58" y1="282.4" x2="327.58" y2="285.4" stroke="#000" stroke-width="1.35"/>
<line x1="338.24" y1="364.3" x2="338.24" y2="361.3" stroke="#000" stroke-width="1.35"/>
<line x1="338.24" y1="282.4" x2="338.24" y2="285.4" stroke="#000" stroke-width="1.35"/>
<line x1="348.9" y1="364.3" x2="348.9" y2="359.3" stroke="#000" stroke-width="1.35"/>
<line x1="348.9" y1="282.4" x2="348.9" y2="287.4" stroke="#000" stroke-width="1.35"/>
<line x1="359.56" y1="364.3" x2="359.56" y2="361.3" stroke="#000" stroke-width="1.35"/>
<line x1="359.56" y1="282.4" x2="359.56" y2="285.4" stroke="#000" stroke-width="1.35"/>
<rect x="71.7" y="282.4" width="297.8" height="81.9" fill="none" stroke="#000" stroke-width="1.6"/>
<text x="64.2" y="368.3" font-size="11.2" font-weight="bold" text-anchor="end" stroke="#000" stroke-width="0.3" textLength="5.5" lengthAdjust="spacingAndGlyphs">0</text>
<text x="64.2" y="351.92" font-size="11.2" font-weight="bold" text-anchor="end" stroke="#000" stroke-width="0.3" textLength="5.5" lengthAdjust="spacingAndGlyphs">2</text>
<text x="64.2" y="335.54" font-size="11.2" font-weight="bold" text-anchor="end" stroke="#000" stroke-width="0.3" textLength="5.5" lengthAdjust="spacingAndGlyphs">4</text>
<text x="64.2" y="319.16" font-size="11.2" font-weight="bold" text-anchor="end" stroke="#000" stroke-width="0.3" textLength="5.5" lengthAdjust="spacingAndGlyphs">6</text>
<text x="64.2" y="302.78" font-size="11.2" font-weight="bold" text-anchor="end" stroke="#000" stroke-width="0.3" textLength="5.5" lengthAdjust="spacingAndGlyphs">8</text>
<text x="64.2" y="286.4" font-size="11.2" font-weight="bold" text-anchor="end" stroke="#000" stroke-width="0.3" textLength="11" lengthAdjust="spacingAndGlyphs">10</text>
<line x1="71.7" y1="447.71" x2="74.7" y2="447.71" stroke="#000" stroke-width="1.35"/>
<line x1="369.5" y1="447.71" x2="366.5" y2="447.71" stroke="#000" stroke-width="1.35"/>
<line x1="71.7" y1="443.41" x2="74.7" y2="443.41" stroke="#000" stroke-width="1.35"/>
<line x1="369.5" y1="443.41" x2="366.5" y2="443.41" stroke="#000" stroke-width="1.35"/>
<line x1="71.7" y1="439.12" x2="76.7" y2="439.12" stroke="#000" stroke-width="1.35"/>
<line x1="369.5" y1="439.12" x2="364.5" y2="439.12" stroke="#000" stroke-width="1.35"/>
<line x1="71.7" y1="434.82" x2="74.7" y2="434.82" stroke="#000" stroke-width="1.35"/>
<line x1="369.5" y1="434.82" x2="366.5" y2="434.82" stroke="#000" stroke-width="1.35"/>
<line x1="71.7" y1="430.53" x2="74.7" y2="430.53" stroke="#000" stroke-width="1.35"/>
<line x1="369.5" y1="430.53" x2="366.5" y2="430.53" stroke="#000" stroke-width="1.35"/>
<line x1="71.7" y1="426.23" x2="74.7" y2="426.23" stroke="#000" stroke-width="1.35"/>
<line x1="369.5" y1="426.23" x2="366.5" y2="426.23" stroke="#000" stroke-width="1.35"/>
<line x1="71.7" y1="421.94" x2="74.7" y2="421.94" stroke="#000" stroke-width="1.35"/>
<line x1="369.5" y1="421.94" x2="366.5" y2="421.94" stroke="#000" stroke-width="1.35"/>
<line x1="71.7" y1="417.64" x2="76.7" y2="417.64" stroke="#000" stroke-width="1.35"/>
<line x1="369.5" y1="417.64" x2="364.5" y2="417.64" stroke="#000" stroke-width="1.35"/>
<line x1="71.7" y1="413.35" x2="74.7" y2="413.35" stroke="#000" stroke-width="1.35"/>
<line x1="369.5" y1="413.35" x2="366.5" y2="413.35" stroke="#000" stroke-width="1.35"/>
<line x1="71.7" y1="409.05" x2="74.7" y2="409.05" stroke="#000" stroke-width="1.35"/>
<line x1="369.5" y1="409.05" x2="366.5" y2="409.05" stroke="#000" stroke-width="1.35"/>
<line x1="71.7" y1="404.76" x2="74.7" y2="404.76" stroke="#000" stroke-width="1.35"/>
<line x1="369.5" y1="404.76" x2="366.5" y2="404.76" stroke="#000" stroke-width="1.35"/>
<line x1="71.7" y1="400.46" x2="74.7" y2="400.46" stroke="#000" stroke-width="1.35"/>
<line x1="369.5" y1="400.46" x2="366.5" y2="400.46" stroke="#000" stroke-width="1.35"/>
<line x1="71.7" y1="396.17" x2="76.7" y2="396.17" stroke="#000" stroke-width="1.35"/>
<line x1="369.5" y1="396.17" x2="364.5" y2="396.17" stroke="#000" stroke-width="1.35"/>
<line x1="71.7" y1="391.87" x2="74.7" y2="391.87" stroke="#000" stroke-width="1.35"/>
<line x1="369.5" y1="391.87" x2="366.5" y2="391.87" stroke="#000" stroke-width="1.35"/>
<line x1="71.7" y1="387.58" x2="74.7" y2="387.58" stroke="#000" stroke-width="1.35"/>
<line x1="369.5" y1="387.58" x2="366.5" y2="387.58" stroke="#000" stroke-width="1.35"/>
<line x1="71.7" y1="383.28" x2="74.7" y2="383.28" stroke="#000" stroke-width="1.35"/>
<line x1="369.5" y1="383.28" x2="366.5" y2="383.28" stroke="#000" stroke-width="1.35"/>
<line x1="71.7" y1="378.99" x2="74.7" y2="378.99" stroke="#000" stroke-width="1.35"/>
<line x1="369.5" y1="378.99" x2="366.5" y2="378.99" stroke="#000" stroke-width="1.35"/>
<line x1="71.7" y1="374.69" x2="76.7" y2="374.69" stroke="#000" stroke-width="1.35"/>
<line x1="369.5" y1="374.69" x2="364.5" y2="374.69" stroke="#000" stroke-width="1.35"/>
<line x1="82.4" y1="452" x2="82.4" y2="447" stroke="#000" stroke-width="1.35"/>
<line x1="82.4" y1="370.4" x2="82.4" y2="375.4" stroke="#000" stroke-width="1.35"/>
<line x1="93.06" y1="452" x2="93.06" y2="449" stroke="#000" stroke-width="1.35"/>
<line x1="93.06" y1="370.4" x2="93.06" y2="373.4" stroke="#000" stroke-width="1.35"/>
<line x1="103.72" y1="452" x2="103.72" y2="449" stroke="#000" stroke-width="1.35"/>
<line x1="103.72" y1="370.4" x2="103.72" y2="373.4" stroke="#000" stroke-width="1.35"/>
<line x1="114.38" y1="452" x2="114.38" y2="449" stroke="#000" stroke-width="1.35"/>
<line x1="114.38" y1="370.4" x2="114.38" y2="373.4" stroke="#000" stroke-width="1.35"/>
<line x1="125.04" y1="452" x2="125.04" y2="449" stroke="#000" stroke-width="1.35"/>
<line x1="125.04" y1="370.4" x2="125.04" y2="373.4" stroke="#000" stroke-width="1.35"/>
<line x1="135.7" y1="452" x2="135.7" y2="447" stroke="#000" stroke-width="1.35"/>
<line x1="135.7" y1="370.4" x2="135.7" y2="375.4" stroke="#000" stroke-width="1.35"/>
<line x1="146.36" y1="452" x2="146.36" y2="449" stroke="#000" stroke-width="1.35"/>
<line x1="146.36" y1="370.4" x2="146.36" y2="373.4" stroke="#000" stroke-width="1.35"/>
<line x1="157.02" y1="452" x2="157.02" y2="449" stroke="#000" stroke-width="1.35"/>
<line x1="157.02" y1="370.4" x2="157.02" y2="373.4" stroke="#000" stroke-width="1.35"/>
<line x1="167.68" y1="452" x2="167.68" y2="449" stroke="#000" stroke-width="1.35"/>
<line x1="167.68" y1="370.4" x2="167.68" y2="373.4" stroke="#000" stroke-width="1.35"/>
<line x1="178.34" y1="452" x2="178.34" y2="449" stroke="#000" stroke-width="1.35"/>
<line x1="178.34" y1="370.4" x2="178.34" y2="373.4" stroke="#000" stroke-width="1.35"/>
<line x1="189" y1="452" x2="189" y2="447" stroke="#000" stroke-width="1.35"/>
<line x1="189" y1="370.4" x2="189" y2="375.4" stroke="#000" stroke-width="1.35"/>
<line x1="199.66" y1="452" x2="199.66" y2="449" stroke="#000" stroke-width="1.35"/>
<line x1="199.66" y1="370.4" x2="199.66" y2="373.4" stroke="#000" stroke-width="1.35"/>
<line x1="210.32" y1="452" x2="210.32" y2="449" stroke="#000" stroke-width="1.35"/>
<line x1="210.32" y1="370.4" x2="210.32" y2="373.4" stroke="#000" stroke-width="1.35"/>
<line x1="220.98" y1="452" x2="220.98" y2="449" stroke="#000" stroke-width="1.35"/>
<line x1="220.98" y1="370.4" x2="220.98" y2="373.4" stroke="#000" stroke-width="1.35"/>
<line x1="231.64" y1="452" x2="231.64" y2="449" stroke="#000" stroke-width="1.35"/>
<line x1="231.64" y1="370.4" x2="231.64" y2="373.4" stroke="#000" stroke-width="1.35"/>
<line x1="242.3" y1="452" x2="242.3" y2="447" stroke="#000" stroke-width="1.35"/>
<line x1="242.3" y1="370.4" x2="242.3" y2="375.4" stroke="#000" stroke-width="1.35"/>
<line x1="252.96" y1="452" x2="252.96" y2="449" stroke="#000" stroke-width="1.35"/>
<line x1="252.96" y1="370.4" x2="252.96" y2="373.4" stroke="#000" stroke-width="1.35"/>
<line x1="263.62" y1="452" x2="263.62" y2="449" stroke="#000" stroke-width="1.35"/>
<line x1="263.62" y1="370.4" x2="263.62" y2="373.4" stroke="#000" stroke-width="1.35"/>
<line x1="274.28" y1="452" x2="274.28" y2="449" stroke="#000" stroke-width="1.35"/>
<line x1="274.28" y1="370.4" x2="274.28" y2="373.4" stroke="#000" stroke-width="1.35"/>
<line x1="284.94" y1="452" x2="284.94" y2="449" stroke="#000" stroke-width="1.35"/>
<line x1="284.94" y1="370.4" x2="284.94" y2="373.4" stroke="#000" stroke-width="1.35"/>
<line x1="295.6" y1="452" x2="295.6" y2="447" stroke="#000" stroke-width="1.35"/>
<line x1="295.6" y1="370.4" x2="295.6" y2="375.4" stroke="#000" stroke-width="1.35"/>
<line x1="306.26" y1="452" x2="306.26" y2="449" stroke="#000" stroke-width="1.35"/>
<line x1="306.26" y1="370.4" x2="306.26" y2="373.4" stroke="#000" stroke-width="1.35"/>
<line x1="316.92" y1="452" x2="316.92" y2="449" stroke="#000" stroke-width="1.35"/>
<line x1="316.92" y1="370.4" x2="316.92" y2="373.4" stroke="#000" stroke-width="1.35"/>
<line x1="327.58" y1="452" x2="327.58" y2="449" stroke="#000" stroke-width="1.35"/>
<line x1="327.58" y1="370.4" x2="327.58" y2="373.4" stroke="#000" stroke-width="1.35"/>
<line x1="338.24" y1="452" x2="338.24" y2="449" stroke="#000" stroke-width="1.35"/>
<line x1="338.24" y1="370.4" x2="338.24" y2="373.4" stroke="#000" stroke-width="1.35"/>
<line x1="348.9" y1="452" x2="348.9" y2="447" stroke="#000" stroke-width="1.35"/>
<line x1="348.9" y1="370.4" x2="348.9" y2="375.4" stroke="#000" stroke-width="1.35"/>
<line x1="359.56" y1="452" x2="359.56" y2="449" stroke="#000" stroke-width="1.35"/>
<line x1="359.56" y1="370.4" x2="359.56" y2="373.4" stroke="#000" stroke-width="1.35"/>
<rect x="71.7" y="370.4" width="297.8" height="81.6" fill="none" stroke="#000" stroke-width="1.6"/>
<text x="64.2" y="443.12" font-size="11.2" font-weight="bold" text-anchor="end" stroke="#000" stroke-width="0.3" textLength="5.5" lengthAdjust="spacingAndGlyphs">1</text>
<text x="64.2" y="421.64" font-size="11.2" font-weight="bold" text-anchor="end" stroke="#000" stroke-width="0.3" textLength="5.5" lengthAdjust="spacingAndGlyphs">2</text>
<text x="64.2" y="400.17" font-size="11.2" font-weight="bold" text-anchor="end" stroke="#000" stroke-width="0.3" textLength="5.5" lengthAdjust="spacingAndGlyphs">3</text>
<text x="64.2" y="378.69" font-size="11.2" font-weight="bold" text-anchor="end" stroke="#000" stroke-width="0.3" textLength="5.5" lengthAdjust="spacingAndGlyphs">4</text>
<text x="83.6" y="34" font-size="9.6" font-weight="bold" stroke="#000" stroke-width="0.3" textLength="11.4" lengthAdjust="spacingAndGlyphs">(a)</text>
<text x="83.6" y="124" font-size="9.6" font-weight="bold" stroke="#000" stroke-width="0.3" textLength="11.4" lengthAdjust="spacingAndGlyphs">(b)</text>
<text x="83.6" y="210.2" font-size="9.6" font-weight="bold" stroke="#000" stroke-width="0.3" textLength="11.4" lengthAdjust="spacingAndGlyphs">(c)</text>
<text x="83.6" y="298.5" font-size="9.6" font-weight="bold" stroke="#000" stroke-width="0.3" textLength="11.4" lengthAdjust="spacingAndGlyphs">(d)</text>
<text x="83.6" y="387" font-size="9.6" font-weight="bold" stroke="#000" stroke-width="0.3" textLength="11.4" lengthAdjust="spacingAndGlyphs">(e)</text>
<text x="83.5" y="468" font-size="11.2" font-weight="bold" text-anchor="middle" stroke="#000" stroke-width="0.3" textLength="5.6" lengthAdjust="spacingAndGlyphs">6</text>
<text x="136.8" y="468" font-size="11.2" font-weight="bold" text-anchor="middle" stroke="#000" stroke-width="0.3" textLength="5.6" lengthAdjust="spacingAndGlyphs">7</text>
<text x="190.1" y="468" font-size="11.2" font-weight="bold" text-anchor="middle" stroke="#000" stroke-width="0.3" textLength="5.6" lengthAdjust="spacingAndGlyphs">8</text>
<text x="243.4" y="468" font-size="11.2" font-weight="bold" text-anchor="middle" stroke="#000" stroke-width="0.3" textLength="5.6" lengthAdjust="spacingAndGlyphs">9</text>
<text x="295.4" y="468" font-size="11.2" font-weight="bold" text-anchor="middle" stroke="#000" stroke-width="0.3" textLength="11.2" lengthAdjust="spacingAndGlyphs">10</text>
<text x="348.7" y="468" font-size="11.2" font-weight="bold" text-anchor="middle" stroke="#000" stroke-width="0.3" textLength="11.2" lengthAdjust="spacingAndGlyphs">11</text>
<text x="190.5" y="485.4" font-size="13.3" font-weight="bold" stroke="#000" stroke-width="0.3" textLength="61.5" lengthAdjust="spacingAndGlyphs">Time, <tspan font-style="italic">t</tspan> (s)</text>
<text x="136.4" y="46" font-size="12.2" font-weight="bold" stroke="#000" stroke-width="0.3" textLength="49.6" lengthAdjust="spacingAndGlyphs">NBI-only</text>
<text x="257" y="63.6" font-size="13.5" font-weight="bold" fill="#ff0000" stroke="#ff0000" stroke-width="0.3" textLength="23" lengthAdjust="spacingAndGlyphs">NBI</text>
<text x="254" y="91" font-size="13.5" font-weight="bold" fill="#ff0000" stroke="#ff0000" stroke-width="0.3" textLength="32" lengthAdjust="spacingAndGlyphs">ICRF</text>
<text x="297.8" y="318.6" font-size="11" font-weight="normal" textLength="6.4" lengthAdjust="spacingAndGlyphs">×</text>
<text x="306.5" y="318" font-size="9.8" font-weight="bold" stroke="#000" stroke-width="0.3" textLength="10.7" lengthAdjust="spacingAndGlyphs">10</text>
<text x="317.7" y="314.3" font-size="8.2" font-weight="bold" stroke="#000" stroke-width="0.3" textLength="7.6" lengthAdjust="spacingAndGlyphs">15</text>
<text x="330.5" y="318" font-size="10" font-weight="bold" stroke="#000" stroke-width="0.3" textLength="14.2" lengthAdjust="spacingAndGlyphs">n/s</text>
<text x="280.7" y="425.1" font-size="10.8" font-weight="bold" fill="#ff0000" stroke="#ff0000" stroke-width="0.3" textLength="85.3" lengthAdjust="spacingAndGlyphs">14MW: ICRF+NBI</text>
<text x="215.6" y="443.5" font-size="10.8" font-weight="bold" stroke="#000" stroke-width="0.3" textLength="77.2" lengthAdjust="spacingAndGlyphs">14MW: NBI-only</text>
<g transform="translate(34.7,89.1) rotate(-90)">
<text x="0" y="0" font-size="12.8" font-weight="bold" font-style="italic" stroke="#000" stroke-width="0.3" textLength="8.6" lengthAdjust="spacingAndGlyphs">P</text>
<text x="6.4" y="4.1" font-size="10.2" font-weight="bold" stroke="#000" stroke-width="0.3" textLength="20.3" lengthAdjust="spacingAndGlyphs">aux.</text>
<text x="30.7" y="0" font-size="12.8" font-weight="bold" stroke="#000" stroke-width="0.3" textLength="29.6" lengthAdjust="spacingAndGlyphs">(MW)</text>
</g>
<g transform="translate(36.3,189.6) rotate(-90)">
<text x="0" y="0" font-size="12.8" font-weight="bold" font-style="italic" stroke="#000" stroke-width="0.3" textLength="7.2" lengthAdjust="spacingAndGlyphs">n</text>
<text x="7.1" y="3.8" font-size="10.2" font-weight="bold" stroke="#000" stroke-width="0.3">e</text>
<text x="15.6" y="0" font-size="12.8" font-weight="bold" stroke="#000" stroke-width="0.3">dl</text>
<text x="27.7" y="0" font-size="12.8" font-weight="bold" stroke="#000" stroke-width="0.3" textLength="20.2" lengthAdjust="spacingAndGlyphs">(10</text>
<text x="49.1" y="-7.1" font-size="8.6" font-weight="bold" stroke="#000" stroke-width="0.3" textLength="9.6" lengthAdjust="spacingAndGlyphs">19</text>
<text x="60.9" y="0" font-size="12.8" font-weight="bold" stroke="#000" stroke-width="0.3" textLength="9.6" lengthAdjust="spacingAndGlyphs">m</text>
<text x="71" y="-7.1" font-size="8.6" font-weight="bold" stroke="#000" stroke-width="0.3" textLength="10.2" lengthAdjust="spacingAndGlyphs">-2</text>
<text x="80.6" y="0" font-size="12.8" font-weight="bold" stroke="#000" stroke-width="0.3" textLength="4.3" lengthAdjust="spacingAndGlyphs">)</text>
</g>
<g transform="translate(34.7,260.2) rotate(-90)">
<text x="0" y="0" font-size="12.8" font-weight="bold" font-style="italic" stroke="#000" stroke-width="0.3">T</text>
<text x="7" y="4.1" font-size="10.5" font-weight="bold" stroke="#000" stroke-width="0.3" textLength="10.2" lengthAdjust="spacingAndGlyphs">e0</text>
<text x="20.4" y="0" font-size="12.8" font-weight="bold" stroke="#000" stroke-width="0.3" textLength="30.6" lengthAdjust="spacingAndGlyphs">(keV)</text>
</g>
<g transform="translate(36,359.6) rotate(-90)">
<text x="0" y="0" font-size="12.8" font-weight="bold" stroke="#000" stroke-width="0.3" textLength="72.4" lengthAdjust="spacingAndGlyphs">Neutron rate</text>
</g>
<g transform="translate(35.2,433) rotate(-90)">
<text x="0" y="0" font-size="12.8" font-weight="bold" font-style="italic" stroke="#000" stroke-width="0.3" textLength="11.4" lengthAdjust="spacingAndGlyphs">W</text>
<text x="10" y="3.9" font-size="10.5" font-weight="bold" stroke="#000" stroke-width="0.3">p</text>
<text x="20.3" y="0" font-size="12.8" font-weight="bold" stroke="#000" stroke-width="0.3" textLength="23.9" lengthAdjust="spacingAndGlyphs">(MJ)</text>
</g>
<line x1="49.78" y1="723.5" x2="49.78" y2="720.5" stroke="#000" stroke-width="1.35"/>
<line x1="49.78" y1="514.5" x2="49.78" y2="517.5" stroke="#000" stroke-width="1.35"/>
<line x1="58.86" y1="723.5" x2="58.86" y2="720.5" stroke="#000" stroke-width="1.35"/>
<line x1="58.86" y1="514.5" x2="58.86" y2="517.5" stroke="#000" stroke-width="1.35"/>
<line x1="67.94" y1="723.5" x2="67.94" y2="720.5" stroke="#000" stroke-width="1.35"/>
<line x1="67.94" y1="514.5" x2="67.94" y2="517.5" stroke="#000" stroke-width="1.35"/>
<line x1="77.03" y1="723.5" x2="77.03" y2="717" stroke="#000" stroke-width="1.35"/>
<line x1="77.03" y1="514.5" x2="77.03" y2="521" stroke="#000" stroke-width="1.35"/>
<line x1="86.11" y1="723.5" x2="86.11" y2="720.5" stroke="#000" stroke-width="1.35"/>
<line x1="86.11" y1="514.5" x2="86.11" y2="517.5" stroke="#000" stroke-width="1.35"/>
<line x1="95.19" y1="723.5" x2="95.19" y2="720.5" stroke="#000" stroke-width="1.35"/>
<line x1="95.19" y1="514.5" x2="95.19" y2="517.5" stroke="#000" stroke-width="1.35"/>
<line x1="104.27" y1="723.5" x2="104.27" y2="720.5" stroke="#000" stroke-width="1.35"/>
<line x1="104.27" y1="514.5" x2="104.27" y2="517.5" stroke="#000" stroke-width="1.35"/>
<line x1="113.35" y1="723.5" x2="113.35" y2="717" stroke="#000" stroke-width="1.35"/>
<line x1="113.35" y1="514.5" x2="113.35" y2="521" stroke="#000" stroke-width="1.35"/>
<line x1="122.43" y1="723.5" x2="122.43" y2="720.5" stroke="#000" stroke-width="1.35"/>
<line x1="122.43" y1="514.5" x2="122.43" y2="517.5" stroke="#000" stroke-width="1.35"/>
<line x1="131.51" y1="723.5" x2="131.51" y2="720.5" stroke="#000" stroke-width="1.35"/>
<line x1="131.51" y1="514.5" x2="131.51" y2="517.5" stroke="#000" stroke-width="1.35"/>
<line x1="140.59" y1="723.5" x2="140.59" y2="720.5" stroke="#000" stroke-width="1.35"/>
<line x1="140.59" y1="514.5" x2="140.59" y2="517.5" stroke="#000" stroke-width="1.35"/>
<line x1="149.68" y1="723.5" x2="149.68" y2="717" stroke="#000" stroke-width="1.35"/>
<line x1="149.68" y1="514.5" x2="149.68" y2="521" stroke="#000" stroke-width="1.35"/>
<line x1="158.76" y1="723.5" x2="158.76" y2="720.5" stroke="#000" stroke-width="1.35"/>
<line x1="158.76" y1="514.5" x2="158.76" y2="517.5" stroke="#000" stroke-width="1.35"/>
<line x1="167.84" y1="723.5" x2="167.84" y2="720.5" stroke="#000" stroke-width="1.35"/>
<line x1="167.84" y1="514.5" x2="167.84" y2="517.5" stroke="#000" stroke-width="1.35"/>
<line x1="176.92" y1="723.5" x2="176.92" y2="720.5" stroke="#000" stroke-width="1.35"/>
<line x1="176.92" y1="514.5" x2="176.92" y2="517.5" stroke="#000" stroke-width="1.35"/>
<line x1="40.7" y1="708.57" x2="43.7" y2="708.57" stroke="#000" stroke-width="1.35"/>
<line x1="186" y1="708.57" x2="183" y2="708.57" stroke="#000" stroke-width="1.35"/>
<line x1="40.7" y1="693.64" x2="43.7" y2="693.64" stroke="#000" stroke-width="1.35"/>
<line x1="186" y1="693.64" x2="183" y2="693.64" stroke="#000" stroke-width="1.35"/>
<line x1="40.7" y1="678.71" x2="43.7" y2="678.71" stroke="#000" stroke-width="1.35"/>
<line x1="186" y1="678.71" x2="183" y2="678.71" stroke="#000" stroke-width="1.35"/>
<line x1="40.7" y1="663.79" x2="47.2" y2="663.79" stroke="#000" stroke-width="1.35"/>
<line x1="186" y1="663.79" x2="179.5" y2="663.79" stroke="#000" stroke-width="1.35"/>
<line x1="40.7" y1="648.86" x2="43.7" y2="648.86" stroke="#000" stroke-width="1.35"/>
<line x1="186" y1="648.86" x2="183" y2="648.86" stroke="#000" stroke-width="1.35"/>
<line x1="40.7" y1="633.93" x2="43.7" y2="633.93" stroke="#000" stroke-width="1.35"/>
<line x1="186" y1="633.93" x2="183" y2="633.93" stroke="#000" stroke-width="1.35"/>
<line x1="40.7" y1="619" x2="43.7" y2="619" stroke="#000" stroke-width="1.35"/>
<line x1="186" y1="619" x2="183" y2="619" stroke="#000" stroke-width="1.35"/>
<line x1="40.7" y1="604.07" x2="47.2" y2="604.07" stroke="#000" stroke-width="1.35"/>
<line x1="186" y1="604.07" x2="179.5" y2="604.07" stroke="#000" stroke-width="1.35"/>
<line x1="40.7" y1="589.14" x2="43.7" y2="589.14" stroke="#000" stroke-width="1.35"/>
<line x1="186" y1="589.14" x2="183" y2="589.14" stroke="#000" stroke-width="1.35"/>
<line x1="40.7" y1="574.21" x2="43.7" y2="574.21" stroke="#000" stroke-width="1.35"/>
<line x1="186" y1="574.21" x2="183" y2="574.21" stroke="#000" stroke-width="1.35"/>
<line x1="40.7" y1="559.29" x2="43.7" y2="559.29" stroke="#000" stroke-width="1.35"/>
<line x1="186" y1="559.29" x2="183" y2="559.29" stroke="#000" stroke-width="1.35"/>
<line x1="40.7" y1="544.36" x2="47.2" y2="544.36" stroke="#000" stroke-width="1.35"/>
<line x1="186" y1="544.36" x2="179.5" y2="544.36" stroke="#000" stroke-width="1.35"/>
<line x1="40.7" y1="529.43" x2="43.7" y2="529.43" stroke="#000" stroke-width="1.35"/>
<line x1="186" y1="529.43" x2="183" y2="529.43" stroke="#000" stroke-width="1.35"/>
<rect x="40.7" y="514.5" width="145.3" height="209" fill="none" stroke="#000" stroke-width="1.6"/>
<text x="31.8" y="727.9" font-size="12.8" font-weight="bold" text-anchor="end" stroke="#000" stroke-width="0.3" textLength="6.6" lengthAdjust="spacingAndGlyphs">0</text>
<text x="31.8" y="668.19" font-size="12.8" font-weight="bold" text-anchor="end" stroke="#000" stroke-width="0.3" textLength="6.6" lengthAdjust="spacingAndGlyphs">2</text>
<text x="31.8" y="608.47" font-size="12.8" font-weight="bold" text-anchor="end" stroke="#000" stroke-width="0.3" textLength="6.6" lengthAdjust="spacingAndGlyphs">4</text>
<text x="31.8" y="548.76" font-size="12.8" font-weight="bold" text-anchor="end" stroke="#000" stroke-width="0.3" textLength="6.6" lengthAdjust="spacingAndGlyphs">6</text>
<text x="40.7" y="743" font-size="13" font-weight="bold" text-anchor="middle" stroke="#000" stroke-width="0.3" textLength="17.2" lengthAdjust="spacingAndGlyphs">3.0</text>
<text x="77.03" y="743" font-size="13" font-weight="bold" text-anchor="middle" stroke="#000" stroke-width="0.3" textLength="17.2" lengthAdjust="spacingAndGlyphs">3.2</text>
<text x="113.35" y="743" font-size="13" font-weight="bold" text-anchor="middle" stroke="#000" stroke-width="0.3" textLength="17.2" lengthAdjust="spacingAndGlyphs">3.4</text>
<text x="149.68" y="743" font-size="13" font-weight="bold" text-anchor="middle" stroke="#000" stroke-width="0.3" textLength="17.2" lengthAdjust="spacingAndGlyphs">3.6</text>
<text x="186" y="743" font-size="13" font-weight="bold" text-anchor="middle" stroke="#000" stroke-width="0.3" textLength="17.2" lengthAdjust="spacingAndGlyphs">3.8</text>
<text x="40.2" y="509.3" font-size="12.0" font-weight="bold" stroke="#000" stroke-width="0.3" textLength="11.8" lengthAdjust="spacingAndGlyphs">(f)</text>
<line x1="255.19" y1="723.5" x2="255.19" y2="720.5" stroke="#000" stroke-width="1.35"/>
<line x1="255.19" y1="516.2" x2="255.19" y2="519.2" stroke="#000" stroke-width="1.35"/>
<line x1="264.18" y1="723.5" x2="264.18" y2="720.5" stroke="#000" stroke-width="1.35"/>
<line x1="264.18" y1="516.2" x2="264.18" y2="519.2" stroke="#000" stroke-width="1.35"/>
<line x1="273.16" y1="723.5" x2="273.16" y2="720.5" stroke="#000" stroke-width="1.35"/>
<line x1="273.16" y1="516.2" x2="273.16" y2="519.2" stroke="#000" stroke-width="1.35"/>
<line x1="282.15" y1="723.5" x2="282.15" y2="717" stroke="#000" stroke-width="1.35"/>
<line x1="282.15" y1="516.2" x2="282.15" y2="522.7" stroke="#000" stroke-width="1.35"/>
<line x1="291.14" y1="723.5" x2="291.14" y2="720.5" stroke="#000" stroke-width="1.35"/>
<line x1="291.14" y1="516.2" x2="291.14" y2="519.2" stroke="#000" stroke-width="1.35"/>
<line x1="300.12" y1="723.5" x2="300.12" y2="720.5" stroke="#000" stroke-width="1.35"/>
<line x1="300.12" y1="516.2" x2="300.12" y2="519.2" stroke="#000" stroke-width="1.35"/>
<line x1="309.11" y1="723.5" x2="309.11" y2="720.5" stroke="#000" stroke-width="1.35"/>
<line x1="309.11" y1="516.2" x2="309.11" y2="519.2" stroke="#000" stroke-width="1.35"/>
<line x1="318.1" y1="723.5" x2="318.1" y2="717" stroke="#000" stroke-width="1.35"/>
<line x1="318.1" y1="516.2" x2="318.1" y2="522.7" stroke="#000" stroke-width="1.35"/>
<line x1="327.09" y1="723.5" x2="327.09" y2="720.5" stroke="#000" stroke-width="1.35"/>
<line x1="327.09" y1="516.2" x2="327.09" y2="519.2" stroke="#000" stroke-width="1.35"/>
<line x1="336.07" y1="723.5" x2="336.07" y2="720.5" stroke="#000" stroke-width="1.35"/>
<line x1="336.07" y1="516.2" x2="336.07" y2="519.2" stroke="#000" stroke-width="1.35"/>
<line x1="345.06" y1="723.5" x2="345.06" y2="720.5" stroke="#000" stroke-width="1.35"/>
<line x1="345.06" y1="516.2" x2="345.06" y2="519.2" stroke="#000" stroke-width="1.35"/>
<line x1="354.05" y1="723.5" x2="354.05" y2="717" stroke="#000" stroke-width="1.35"/>
<line x1="354.05" y1="516.2" x2="354.05" y2="522.7" stroke="#000" stroke-width="1.35"/>
<line x1="363.04" y1="723.5" x2="363.04" y2="720.5" stroke="#000" stroke-width="1.35"/>
<line x1="363.04" y1="516.2" x2="363.04" y2="519.2" stroke="#000" stroke-width="1.35"/>
<line x1="372.03" y1="723.5" x2="372.03" y2="720.5" stroke="#000" stroke-width="1.35"/>
<line x1="372.03" y1="516.2" x2="372.03" y2="519.2" stroke="#000" stroke-width="1.35"/>
<line x1="381.01" y1="723.5" x2="381.01" y2="720.5" stroke="#000" stroke-width="1.35"/>
<line x1="381.01" y1="516.2" x2="381.01" y2="519.2" stroke="#000" stroke-width="1.35"/>
<line x1="246.2" y1="708.69" x2="249.2" y2="708.69" stroke="#000" stroke-width="1.35"/>
<line x1="390" y1="708.69" x2="387" y2="708.69" stroke="#000" stroke-width="1.35"/>
<line x1="246.2" y1="693.89" x2="249.2" y2="693.89" stroke="#000" stroke-width="1.35"/>
<line x1="390" y1="693.89" x2="387" y2="693.89" stroke="#000" stroke-width="1.35"/>
<line x1="246.2" y1="679.08" x2="249.2" y2="679.08" stroke="#000" stroke-width="1.35"/>
<line x1="390" y1="679.08" x2="387" y2="679.08" stroke="#000" stroke-width="1.35"/>
<line x1="246.2" y1="664.27" x2="252.7" y2="664.27" stroke="#000" stroke-width="1.35"/>
<line x1="390" y1="664.27" x2="383.5" y2="664.27" stroke="#000" stroke-width="1.35"/>
<line x1="246.2" y1="649.46" x2="249.2" y2="649.46" stroke="#000" stroke-width="1.35"/>
<line x1="390" y1="649.46" x2="387" y2="649.46" stroke="#000" stroke-width="1.35"/>
<line x1="246.2" y1="634.66" x2="249.2" y2="634.66" stroke="#000" stroke-width="1.35"/>
<line x1="390" y1="634.66" x2="387" y2="634.66" stroke="#000" stroke-width="1.35"/>
<line x1="246.2" y1="619.85" x2="249.2" y2="619.85" stroke="#000" stroke-width="1.35"/>
<line x1="390" y1="619.85" x2="387" y2="619.85" stroke="#000" stroke-width="1.35"/>
<line x1="246.2" y1="605.04" x2="252.7" y2="605.04" stroke="#000" stroke-width="1.35"/>
<line x1="390" y1="605.04" x2="383.5" y2="605.04" stroke="#000" stroke-width="1.35"/>
<line x1="246.2" y1="590.24" x2="249.2" y2="590.24" stroke="#000" stroke-width="1.35"/>
<line x1="390" y1="590.24" x2="387" y2="590.24" stroke="#000" stroke-width="1.35"/>
<line x1="246.2" y1="575.43" x2="249.2" y2="575.43" stroke="#000" stroke-width="1.35"/>
<line x1="390" y1="575.43" x2="387" y2="575.43" stroke="#000" stroke-width="1.35"/>
<line x1="246.2" y1="560.62" x2="249.2" y2="560.62" stroke="#000" stroke-width="1.35"/>
<line x1="390" y1="560.62" x2="387" y2="560.62" stroke="#000" stroke-width="1.35"/>
<line x1="246.2" y1="545.81" x2="252.7" y2="545.81" stroke="#000" stroke-width="1.35"/>
<line x1="390" y1="545.81" x2="383.5" y2="545.81" stroke="#000" stroke-width="1.35"/>
<line x1="246.2" y1="531.01" x2="249.2" y2="531.01" stroke="#000" stroke-width="1.35"/>
<line x1="390" y1="531.01" x2="387" y2="531.01" stroke="#000" stroke-width="1.35"/>
<rect x="246.2" y="516.2" width="143.8" height="207.3" fill="none" stroke="#000" stroke-width="1.6"/>
<text x="237.6" y="727.9" font-size="12.8" font-weight="bold" text-anchor="end" stroke="#000" stroke-width="0.3" textLength="6.6" lengthAdjust="spacingAndGlyphs">0</text>
<text x="237.6" y="668.67" font-size="12.8" font-weight="bold" text-anchor="end" stroke="#000" stroke-width="0.3" textLength="6.6" lengthAdjust="spacingAndGlyphs">2</text>
<text x="237.6" y="609.44" font-size="12.8" font-weight="bold" text-anchor="end" stroke="#000" stroke-width="0.3" textLength="6.6" lengthAdjust="spacingAndGlyphs">4</text>
<text x="237.6" y="550.21" font-size="12.8" font-weight="bold" text-anchor="end" stroke="#000" stroke-width="0.3" textLength="6.6" lengthAdjust="spacingAndGlyphs">6</text>
<text x="246.2" y="743" font-size="13" font-weight="bold" text-anchor="middle" stroke="#000" stroke-width="0.3" textLength="17.2" lengthAdjust="spacingAndGlyphs">3.0</text>
<text x="282.15" y="743" font-size="13" font-weight="bold" text-anchor="middle" stroke="#000" stroke-width="0.3" textLength="17.2" lengthAdjust="spacingAndGlyphs">3.2</text>
<text x="318.1" y="743" font-size="13" font-weight="bold" text-anchor="middle" stroke="#000" stroke-width="0.3" textLength="17.2" lengthAdjust="spacingAndGlyphs">3.4</text>
<text x="354.05" y="743" font-size="13" font-weight="bold" text-anchor="middle" stroke="#000" stroke-width="0.3" textLength="17.2" lengthAdjust="spacingAndGlyphs">3.6</text>
<text x="390" y="743" font-size="13" font-weight="bold" text-anchor="middle" stroke="#000" stroke-width="0.3" textLength="17.2" lengthAdjust="spacingAndGlyphs">3.8</text>
<text x="246.2" y="509" font-size="12.5" font-weight="bold" stroke="#000" stroke-width="0.3">(g)</text>
<path d="M40.7,602.2L44.3,605.8M40.7,605.8L44.3,602.2" stroke="#000" stroke-width="0.7"/>
<rect x="41.4" y="602.9" width="2.2" height="2.2" fill="#000"/>
<path d="M43.2,602.2L46.8,605.8M43.2,605.8L46.8,602.2" stroke="#000" stroke-width="0.7"/>
<rect x="43.9" y="602.9" width="2.2" height="2.2" fill="#000"/>
<path d="M45.7,604.95L49.3,608.55M45.7,608.55L49.3,604.95" stroke="#000" stroke-width="0.7"/>
<rect x="46.4" y="605.65" width="2.2" height="2.2" fill="#000"/>
<path d="M48.2,605.95L51.8,609.55M48.2,609.55L51.8,605.95" stroke="#000" stroke-width="0.7"/>
<rect x="48.9" y="606.65" width="2.2" height="2.2" fill="#000"/>
<path d="M50.7,606.45L54.3,610.05M50.7,610.05L54.3,606.45" stroke="#000" stroke-width="0.7"/>
<rect x="51.4" y="607.15" width="2.2" height="2.2" fill="#000"/>
<path d="M53.2,607.2L56.8,610.8M53.2,610.8L56.8,607.2" stroke="#000" stroke-width="0.7"/>
<rect x="53.9" y="607.9" width="2.2" height="2.2" fill="#000"/>
<path d="M55.7,608.45L59.3,612.05M55.7,612.05L59.3,608.45" stroke="#000" stroke-width="0.7"/>
<rect x="56.4" y="609.15" width="2.2" height="2.2" fill="#000"/>
<path d="M58.2,609.7L61.8,613.3M58.2,613.3L61.8,609.7" stroke="#000" stroke-width="0.7"/>
<rect x="58.9" y="610.4" width="2.2" height="2.2" fill="#000"/>
<path d="M60.7,608.95L64.3,612.55M60.7,612.55L64.3,608.95" stroke="#000" stroke-width="0.7"/>
<rect x="61.4" y="609.65" width="2.2" height="2.2" fill="#000"/>
<path d="M63.2,608.1L66.8,611.7M63.2,611.7L66.8,608.1" stroke="#000" stroke-width="0.7"/>
<rect x="63.9" y="608.8" width="2.2" height="2.2" fill="#000"/>
<path d="M65.45,612.7L69.05,616.3M65.45,616.3L69.05,612.7" stroke="#000" stroke-width="0.7"/>
<rect x="66.15" y="613.4" width="2.2" height="2.2" fill="#000"/>
<path d="M67.95,616.2L71.55,619.8M67.95,619.8L71.55,616.2" stroke="#000" stroke-width="0.7"/>
<rect x="68.65" y="616.9" width="2.2" height="2.2" fill="#000"/>
<path d="M70.45,618.95L74.05,622.55M70.45,622.55L74.05,618.95" stroke="#000" stroke-width="0.7"/>
<rect x="71.15" y="619.65" width="2.2" height="2.2" fill="#000"/>
<path d="M74.2,621.8L77.8,625.4M74.2,625.4L77.8,621.8" stroke="#000" stroke-width="0.7"/>
<rect x="74.9" y="622.5" width="2.2" height="2.2" fill="#000"/>
<path d="M78.45,626.45L82.05,630.05M78.45,630.05L82.05,626.45" stroke="#000" stroke-width="0.7"/>
<rect x="79.15" y="627.15" width="2.2" height="2.2" fill="#000"/>
<path d="M84.6,633.3L88.2,636.9M84.6,636.9L88.2,633.3" stroke="#000" stroke-width="0.7"/>
<rect x="85.3" y="634" width="2.2" height="2.2" fill="#000"/>
<path d="M87.4,635.95L91,639.55M87.4,639.55L91,635.95" stroke="#000" stroke-width="0.7"/>
<rect x="88.1" y="636.65" width="2.2" height="2.2" fill="#000"/>
<path d="M90.1,638.45L93.7,642.05M90.1,642.05L93.7,638.45" stroke="#000" stroke-width="0.7"/>
<rect x="90.8" y="639.15" width="2.2" height="2.2" fill="#000"/>
<path d="M92.6,640.95L96.2,644.55M92.6,644.55L96.2,640.95" stroke="#000" stroke-width="0.7"/>
<rect x="93.3" y="641.65" width="2.2" height="2.2" fill="#000"/>
<path d="M95.1,643.2L98.7,646.8M95.1,646.8L98.7,643.2" stroke="#000" stroke-width="0.7"/>
<rect x="95.8" y="643.9" width="2.2" height="2.2" fill="#000"/>
<path d="M97.95,645.45L101.55,649.05M97.95,649.05L101.55,645.45" stroke="#000" stroke-width="0.7"/>
<rect x="98.65" y="646.15" width="2.2" height="2.2" fill="#000"/>
<path d="M100.7,647.2L104.3,650.8M100.7,650.8L104.3,647.2" stroke="#000" stroke-width="0.7"/>
<rect x="101.4" y="647.9" width="2.2" height="2.2" fill="#000"/>
<path d="M103.45,650.1L107.05,653.7M103.45,653.7L107.05,650.1" stroke="#000" stroke-width="0.7"/>
<rect x="104.15" y="650.8" width="2.2" height="2.2" fill="#000"/>
<path d="M105.8,652.8L109.4,656.4M105.8,656.4L109.4,652.8" stroke="#000" stroke-width="0.7"/>
<rect x="106.5" y="653.5" width="2.2" height="2.2" fill="#000"/>
<path d="M106.7,654.6L110.3,658.2M106.7,658.2L110.3,654.6" stroke="#000" stroke-width="0.7"/>
<rect x="107.4" y="655.3" width="2.2" height="2.2" fill="#000"/>
<path d="M110.95,657.95L114.55,661.55M110.95,661.55L114.55,657.95" stroke="#000" stroke-width="0.7"/>
<rect x="111.65" y="658.65" width="2.2" height="2.2" fill="#000"/>
<path d="M114.45,660.1L118.05,663.7M114.45,663.7L118.05,660.1" stroke="#000" stroke-width="0.7"/>
<rect x="115.15" y="660.8" width="2.2" height="2.2" fill="#000"/>
<path d="M117.2,661.7L120.8,665.3M117.2,665.3L120.8,661.7" stroke="#000" stroke-width="0.7"/>
<rect x="117.9" y="662.4" width="2.2" height="2.2" fill="#000"/>
<path d="M120.1,663.45L123.7,667.05M120.1,667.05L123.7,663.45" stroke="#000" stroke-width="0.7"/>
<rect x="120.8" y="664.15" width="2.2" height="2.2" fill="#000"/>
<path d="M122.95,665.45L126.55,669.05M122.95,669.05L126.55,665.45" stroke="#000" stroke-width="0.7"/>
<rect x="123.65" y="666.15" width="2.2" height="2.2" fill="#000"/>
<path d="M125.7,666.8L129.3,670.4M125.7,670.4L129.3,666.8" stroke="#000" stroke-width="0.7"/>
<rect x="126.4" y="667.5" width="2.2" height="2.2" fill="#000"/>
<path d="M128.4,668L132,671.6M128.4,671.6L132,668" stroke="#000" stroke-width="0.7"/>
<rect x="129.1" y="668.7" width="2.2" height="2.2" fill="#000"/>
<path d="M131.2,669.4L134.8,673M131.2,673L134.8,669.4" stroke="#000" stroke-width="0.7"/>
<rect x="131.9" y="670.1" width="2.2" height="2.2" fill="#000"/>
<path d="M136.4,672L140,675.6M136.4,675.6L140,672" stroke="#000" stroke-width="0.7"/>
<rect x="137.1" y="672.7" width="2.2" height="2.2" fill="#000"/>
<path d="M139.7,673.9L143.3,677.5M139.7,677.5L143.3,673.9" stroke="#000" stroke-width="0.7"/>
<rect x="140.4" y="674.6" width="2.2" height="2.2" fill="#000"/>
<path d="M143.1,675.5L146.7,679.1M143.1,679.1L146.7,675.5" stroke="#000" stroke-width="0.7"/>
<rect x="143.8" y="676.2" width="2.2" height="2.2" fill="#000"/>
<path d="M149.4,679.7L153,683.3M149.4,683.3L153,679.7" stroke="#000" stroke-width="0.7"/>
<rect x="150.1" y="680.4" width="2.2" height="2.2" fill="#000"/>
<path d="M153.2,683.1L156.8,686.7M153.2,686.7L156.8,683.1" stroke="#000" stroke-width="0.7"/>
<rect x="153.9" y="683.8" width="2.2" height="2.2" fill="#000"/>
<path d="M157.1,686.6L160.7,690.2M157.1,690.2L160.7,686.6" stroke="#000" stroke-width="0.7"/>
<rect x="157.8" y="687.3" width="2.2" height="2.2" fill="#000"/>
<path d="M161.1,689.7L164.7,693.3M161.1,693.3L164.7,689.7" stroke="#000" stroke-width="0.7"/>
<rect x="161.8" y="690.4" width="2.2" height="2.2" fill="#000"/>
<path d="M165.1,693.2L168.7,696.8M165.1,696.8L168.7,693.2" stroke="#000" stroke-width="0.7"/>
<rect x="165.8" y="693.9" width="2.2" height="2.2" fill="#000"/>
<path d="M168.2,696.3L171.8,699.9M168.2,699.9L171.8,696.3" stroke="#000" stroke-width="0.7"/>
<rect x="168.9" y="697" width="2.2" height="2.2" fill="#000"/>
<path d="M171.3,698.8L174.9,702.4M171.3,702.4L174.9,698.8" stroke="#000" stroke-width="0.7"/>
<rect x="172" y="699.5" width="2.2" height="2.2" fill="#000"/>
<path d="M174.45,701.95L178.05,705.55M174.45,705.55L178.05,701.95" stroke="#000" stroke-width="0.7"/>
<rect x="175.15" y="702.65" width="2.2" height="2.2" fill="#000"/>
<path d="M177.95,704.45L181.55,708.05M177.95,708.05L181.55,704.45" stroke="#000" stroke-width="0.7"/>
<rect x="178.65" y="705.15" width="2.2" height="2.2" fill="#000"/>
<path d="M181.95,707.95L185.55,711.55M181.95,711.55L185.55,707.95" stroke="#000" stroke-width="0.7"/>
<rect x="182.65" y="708.65" width="2.2" height="2.2" fill="#000"/>
<path d="M40.6,522.5L44.2,526.1M40.6,526.1L44.2,522.5" stroke="#ff0000" stroke-width="0.7"/>
<rect x="41.3" y="523.2" width="2.2" height="2.2" fill="#ff0000"/>
<path d="M45.2,522.6L48.8,526.2M45.2,526.2L48.8,522.6" stroke="#ff0000" stroke-width="0.7"/>
<rect x="45.9" y="523.3" width="2.2" height="2.2" fill="#ff0000"/>
<path d="M47.7,523.2L51.3,526.8M47.7,526.8L51.3,523.2" stroke="#ff0000" stroke-width="0.7"/>
<rect x="48.4" y="523.9" width="2.2" height="2.2" fill="#ff0000"/>
<path d="M50.4,524.8L54,528.4M50.4,528.4L54,524.8" stroke="#ff0000" stroke-width="0.7"/>
<rect x="51.1" y="525.5" width="2.2" height="2.2" fill="#ff0000"/>
<path d="M52.95,532.2L56.55,535.8M52.95,535.8L56.55,532.2" stroke="#ff0000" stroke-width="0.7"/>
<rect x="53.65" y="532.9" width="2.2" height="2.2" fill="#ff0000"/>
<path d="M55.1,537.95L58.7,541.55M55.1,541.55L58.7,537.95" stroke="#ff0000" stroke-width="0.7"/>
<rect x="55.8" y="538.65" width="2.2" height="2.2" fill="#ff0000"/>
<path d="M57.6,536.95L61.2,540.55M57.6,540.55L61.2,536.95" stroke="#ff0000" stroke-width="0.7"/>
<rect x="58.3" y="537.65" width="2.2" height="2.2" fill="#ff0000"/>
<path d="M59.7,543.2L63.3,546.8M59.7,546.8L63.3,543.2" stroke="#ff0000" stroke-width="0.7"/>
<rect x="60.4" y="543.9" width="2.2" height="2.2" fill="#ff0000"/>
<path d="M62.2,546.3L65.8,549.9M62.2,549.9L65.8,546.3" stroke="#ff0000" stroke-width="0.7"/>
<rect x="62.9" y="547" width="2.2" height="2.2" fill="#ff0000"/>
<path d="M64.45,553.2L68.05,556.8M64.45,556.8L68.05,553.2" stroke="#ff0000" stroke-width="0.7"/>
<rect x="65.15" y="553.9" width="2.2" height="2.2" fill="#ff0000"/>
<path d="M67.2,560.7L70.8,564.3M67.2,564.3L70.8,560.7" stroke="#ff0000" stroke-width="0.7"/>
<rect x="67.9" y="561.4" width="2.2" height="2.2" fill="#ff0000"/>
<path d="M69.45,564.45L73.05,568.05M69.45,568.05L73.05,564.45" stroke="#ff0000" stroke-width="0.7"/>
<rect x="70.15" y="565.15" width="2.2" height="2.2" fill="#ff0000"/>
<path d="M73.1,565.1L76.7,568.7M73.1,568.7L76.7,565.1" stroke="#ff0000" stroke-width="0.7"/>
<rect x="73.8" y="565.8" width="2.2" height="2.2" fill="#ff0000"/>
<path d="M77.7,578.9L81.3,582.5M77.7,582.5L81.3,578.9" stroke="#ff0000" stroke-width="0.7"/>
<rect x="78.4" y="579.6" width="2.2" height="2.2" fill="#ff0000"/>
<path d="M83.8,595.1L87.4,598.7M83.8,598.7L87.4,595.1" stroke="#ff0000" stroke-width="0.7"/>
<rect x="84.5" y="595.8" width="2.2" height="2.2" fill="#ff0000"/>
<path d="M86.7,601.3L90.3,604.9M86.7,604.9L90.3,601.3" stroke="#ff0000" stroke-width="0.7"/>
<rect x="87.4" y="602" width="2.2" height="2.2" fill="#ff0000"/>
<path d="M89.45,605.95L93.05,609.55M89.45,609.55L93.05,605.95" stroke="#ff0000" stroke-width="0.7"/>
<rect x="90.15" y="606.65" width="2.2" height="2.2" fill="#ff0000"/>
<path d="M92.2,610.7L95.8,614.3M92.2,614.3L95.8,610.7" stroke="#ff0000" stroke-width="0.7"/>
<rect x="92.9" y="611.4" width="2.2" height="2.2" fill="#ff0000"/>
<path d="M94.8,615.6L98.4,619.2M94.8,619.2L98.4,615.6" stroke="#ff0000" stroke-width="0.7"/>
<rect x="95.5" y="616.3" width="2.2" height="2.2" fill="#ff0000"/>
<path d="M97.6,619.7L101.2,623.3M97.6,623.3L101.2,619.7" stroke="#ff0000" stroke-width="0.7"/>
<rect x="98.3" y="620.4" width="2.2" height="2.2" fill="#ff0000"/>
<path d="M100.45,622.95L104.05,626.55M100.45,626.55L104.05,622.95" stroke="#ff0000" stroke-width="0.7"/>
<rect x="101.15" y="623.65" width="2.2" height="2.2" fill="#ff0000"/>
<path d="M103.2,628.2L106.8,631.8M103.2,631.8L106.8,628.2" stroke="#ff0000" stroke-width="0.7"/>
<rect x="103.9" y="628.9" width="2.2" height="2.2" fill="#ff0000"/>
<path d="M105.9,632.6L109.5,636.2M105.9,636.2L109.5,632.6" stroke="#ff0000" stroke-width="0.7"/>
<rect x="106.6" y="633.3" width="2.2" height="2.2" fill="#ff0000"/>
<path d="M111.1,638.2L114.7,641.8M111.1,641.8L114.7,638.2" stroke="#ff0000" stroke-width="0.7"/>
<rect x="111.8" y="638.9" width="2.2" height="2.2" fill="#ff0000"/>
<path d="M114.7,642.95L118.3,646.55M114.7,646.55L118.3,642.95" stroke="#ff0000" stroke-width="0.7"/>
<rect x="115.4" y="643.65" width="2.2" height="2.2" fill="#ff0000"/>
<path d="M118.2,645.95L121.8,649.55M118.2,649.55L121.8,645.95" stroke="#ff0000" stroke-width="0.7"/>
<rect x="118.9" y="646.65" width="2.2" height="2.2" fill="#ff0000"/>
<path d="M121.7,649.7L125.3,653.3M121.7,653.3L125.3,649.7" stroke="#ff0000" stroke-width="0.7"/>
<rect x="122.4" y="650.4" width="2.2" height="2.2" fill="#ff0000"/>
<path d="M125.2,652.4L128.8,656M125.2,656L128.8,652.4" stroke="#ff0000" stroke-width="0.7"/>
<rect x="125.9" y="653.1" width="2.2" height="2.2" fill="#ff0000"/>
<path d="M128.2,654.7L131.8,658.3M128.2,658.3L131.8,654.7" stroke="#ff0000" stroke-width="0.7"/>
<rect x="128.9" y="655.4" width="2.2" height="2.2" fill="#ff0000"/>
<path d="M131.1,657.8L134.7,661.4M131.1,661.4L134.7,657.8" stroke="#ff0000" stroke-width="0.7"/>
<rect x="131.8" y="658.5" width="2.2" height="2.2" fill="#ff0000"/>
<path d="M137.1,662.2L140.7,665.8M137.1,665.8L140.7,662.2" stroke="#ff0000" stroke-width="0.7"/>
<rect x="137.8" y="662.9" width="2.2" height="2.2" fill="#ff0000"/>
<path d="M140.4,664.5L144,668.1M140.4,668.1L144,664.5" stroke="#ff0000" stroke-width="0.7"/>
<rect x="141.1" y="665.2" width="2.2" height="2.2" fill="#ff0000"/>
<path d="M143.7,667L147.3,670.6M143.7,670.6L147.3,667" stroke="#ff0000" stroke-width="0.7"/>
<rect x="144.4" y="667.7" width="2.2" height="2.2" fill="#ff0000"/>
<path d="M150,673.7L153.6,677.3M150,677.3L153.6,673.7" stroke="#ff0000" stroke-width="0.7"/>
<rect x="150.7" y="674.4" width="2.2" height="2.2" fill="#ff0000"/>
<path d="M153.9,678.1L157.5,681.7M153.9,681.7L157.5,678.1" stroke="#ff0000" stroke-width="0.7"/>
<rect x="154.6" y="678.8" width="2.2" height="2.2" fill="#ff0000"/>
<path d="M158,682.2L161.6,685.8M158,685.8L161.6,682.2" stroke="#ff0000" stroke-width="0.7"/>
<rect x="158.7" y="682.9" width="2.2" height="2.2" fill="#ff0000"/>
<path d="M161.8,686.3L165.4,689.9M161.8,689.9L165.4,686.3" stroke="#ff0000" stroke-width="0.7"/>
<rect x="162.5" y="687" width="2.2" height="2.2" fill="#ff0000"/>
<path d="M165.95,690.45L169.55,694.05M165.95,694.05L169.55,690.45" stroke="#ff0000" stroke-width="0.7"/>
<rect x="166.65" y="691.15" width="2.2" height="2.2" fill="#ff0000"/>
<path d="M169.45,693.8L173.05,697.4M169.45,697.4L173.05,693.8" stroke="#ff0000" stroke-width="0.7"/>
<rect x="170.15" y="694.5" width="2.2" height="2.2" fill="#ff0000"/>
<path d="M172.5,696.3L176.1,699.9M172.5,699.9L176.1,696.3" stroke="#ff0000" stroke-width="0.7"/>
<rect x="173.2" y="697" width="2.2" height="2.2" fill="#ff0000"/>
<path d="M175.7,699.2L179.3,702.8M175.7,702.8L179.3,699.2" stroke="#ff0000" stroke-width="0.7"/>
<rect x="176.4" y="699.9" width="2.2" height="2.2" fill="#ff0000"/>
<path d="M178.8,702.2L182.4,705.8M178.8,705.8L182.4,702.2" stroke="#ff0000" stroke-width="0.7"/>
<rect x="179.5" y="702.9" width="2.2" height="2.2" fill="#ff0000"/>
<path d="M182.2,706.3L185.8,709.9M182.2,709.9L185.8,706.3" stroke="#ff0000" stroke-width="0.7"/>
<rect x="182.9" y="707" width="2.2" height="2.2" fill="#ff0000"/>
<circle cx="276.4" cy="572" r="2.0" fill="none" stroke="#ff0000" stroke-width="1.25"/>
<circle cx="283.6" cy="592.4" r="2.0" fill="none" stroke="#ff0000" stroke-width="1.25"/>
<circle cx="306" cy="611" r="2.0" fill="none" stroke="#ff0000" stroke-width="1.25"/>
<circle cx="313.6" cy="625.6" r="2.0" fill="none" stroke="#ff0000" stroke-width="1.25"/>
<circle cx="322" cy="635.6" r="2.0" fill="none" stroke="#ff0000" stroke-width="1.25"/>
<circle cx="338.6" cy="650" r="2.0" fill="none" stroke="#ff0000" stroke-width="1.25"/>
<circle cx="347.4" cy="659" r="2.0" fill="none" stroke="#ff0000" stroke-width="1.25"/>
<circle cx="356.4" cy="668" r="2.0" fill="none" stroke="#ff0000" stroke-width="1.25"/>
<circle cx="365.4" cy="672.4" r="2.0" fill="none" stroke="#ff0000" stroke-width="1.25"/>
<circle cx="375" cy="684" r="2.0" fill="none" stroke="#ff0000" stroke-width="1.25"/>
<circle cx="272.4" cy="576.4" r="2.0" fill="none" stroke="#000" stroke-width="1.25"/>
<circle cx="280" cy="583" r="2.0" fill="none" stroke="#000" stroke-width="1.25"/>
<circle cx="303.6" cy="620.3" r="2.0" fill="none" stroke="#000" stroke-width="1.25"/>
<circle cx="311.6" cy="637" r="2.0" fill="none" stroke="#000" stroke-width="1.25"/>
<circle cx="320" cy="639.6" r="2.0" fill="none" stroke="#000" stroke-width="1.25"/>
<circle cx="337.4" cy="654" r="2.0" fill="none" stroke="#000" stroke-width="1.25"/>
<circle cx="346.4" cy="667" r="2.0" fill="none" stroke="#000" stroke-width="1.25"/>
<circle cx="355.6" cy="670" r="2.0" fill="none" stroke="#000" stroke-width="1.25"/>
<circle cx="365" cy="677" r="2.0" fill="none" stroke="#000" stroke-width="1.25"/>
<circle cx="374.6" cy="686.4" r="2.0" fill="none" stroke="#000" stroke-width="1.25"/>
<rect x="84" y="533.4" width="86" height="25" fill="#fff" stroke="#000" stroke-width="1.0"/>
<ellipse cx="93.7" cy="539.7" rx="1.5" ry="1.9" fill="none" stroke="#ff0000" stroke-width="0.95"/>
<ellipse cx="93.7" cy="552.4" rx="1.5" ry="1.9" fill="none" stroke="#000" stroke-width="0.95"/>
<text x="100.4" y="542.4" font-size="7.0" font-weight="normal" textLength="62.2" lengthAdjust="spacingAndGlyphs" stroke="#000" stroke-width="0.3">#94701: 3-ion ICRF+NBI</text>
<text x="100.4" y="554.8" font-size="7.0" font-weight="normal" textLength="45" lengthAdjust="spacingAndGlyphs" stroke="#000" stroke-width="0.3">#94704: NBI-only</text>
<rect x="290" y="533.4" width="85.5" height="25" fill="#fff" stroke="#000" stroke-width="1.0"/>
<ellipse cx="299.3" cy="539.7" rx="1.5" ry="1.9" fill="none" stroke="#ff0000" stroke-width="0.95"/>
<ellipse cx="299.3" cy="552.4" rx="1.5" ry="1.9" fill="none" stroke="#000" stroke-width="0.95"/>
<text x="306.1" y="542.4" font-size="7.0" font-weight="normal" textLength="62.5" lengthAdjust="spacingAndGlyphs" stroke="#000" stroke-width="0.3">#94701: 3-ion ICRF+NBI</text>
<text x="306.1" y="554.8" font-size="7.0" font-weight="normal" textLength="44.5" lengthAdjust="spacingAndGlyphs" stroke="#000" stroke-width="0.3">#94704: NBI-only</text>
<text x="85.25" y="762.1" font-size="13.4" font-weight="bold" font-style="italic" stroke="#000" stroke-width="0.3">R</text>
<text x="95.55" y="766" font-size="11" font-weight="bold" stroke="#000" stroke-width="0.3" textLength="21" lengthAdjust="spacingAndGlyphs">mag</text>
<text x="121.35" y="762.2" font-size="13.4" font-weight="bold" stroke="#000" stroke-width="0.3" textLength="20.8" lengthAdjust="spacingAndGlyphs">(m)</text>
<text x="289.5" y="762.1" font-size="13.4" font-weight="bold" font-style="italic" stroke="#000" stroke-width="0.3">R</text>
<text x="299.8" y="766" font-size="11" font-weight="bold" stroke="#000" stroke-width="0.3" textLength="21" lengthAdjust="spacingAndGlyphs">mag</text>
<text x="325.6" y="762.2" font-size="13.4" font-weight="bold" stroke="#000" stroke-width="0.3" textLength="20.8" lengthAdjust="spacingAndGlyphs">(m)</text>
<g transform="translate(12,643.4) rotate(-90)">
<text x="0" y="0" font-size="13.5" font-weight="bold" font-style="italic" stroke="#000" stroke-width="0.3" textLength="8.6" lengthAdjust="spacingAndGlyphs">T</text>
<text x="8.7" y="4.6" font-size="11" font-weight="bold" stroke="#000" stroke-width="0.3" textLength="5.4" lengthAdjust="spacingAndGlyphs">e</text>
<text x="17.7" y="0" font-size="13.5" font-weight="bold" stroke="#000" stroke-width="0.3" textLength="32.2" lengthAdjust="spacingAndGlyphs">(keV)</text>
</g>
<g transform="translate(217,642.3) rotate(-90)">
<text x="0" y="0" font-size="13.5" font-weight="bold" font-style="italic" stroke="#000" stroke-width="0.3" textLength="8.6" lengthAdjust="spacingAndGlyphs">T</text>
<text x="8.3" y="4.6" font-size="11" font-weight="bold" stroke="#000" stroke-width="0.3" textLength="3" lengthAdjust="spacingAndGlyphs">i</text>
<text x="14.5" y="0" font-size="13.5" font-weight="bold" stroke="#000" stroke-width="0.3" textLength="32.2" lengthAdjust="spacingAndGlyphs">(keV)</text>
</g>
</g></svg>
</body></html>
